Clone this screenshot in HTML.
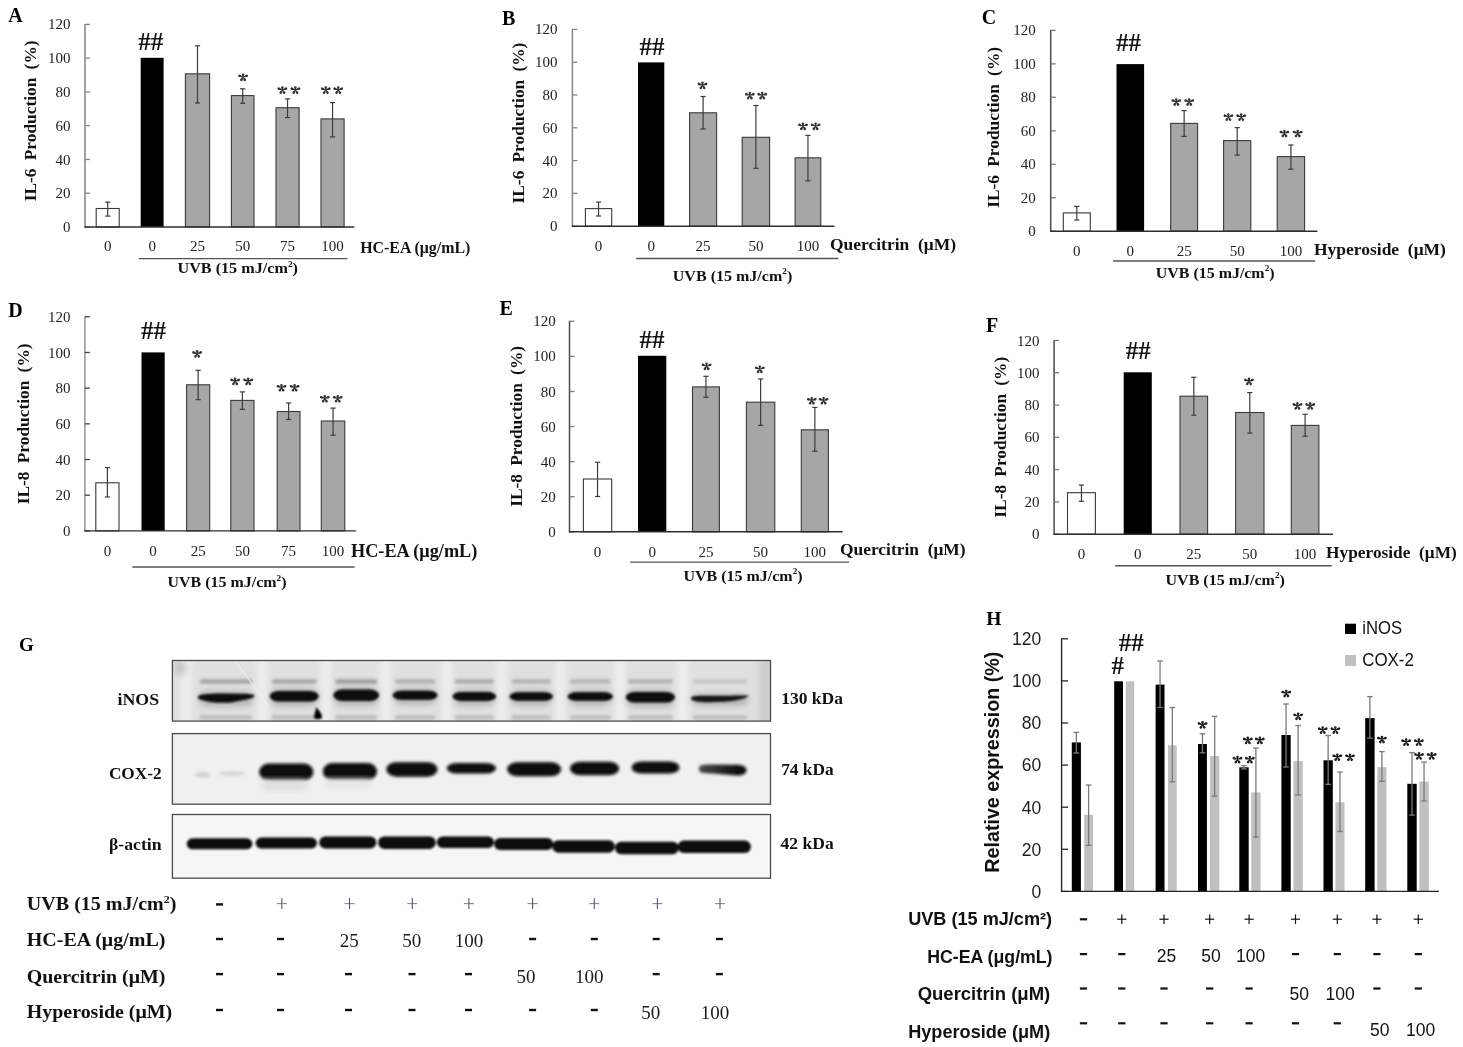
<!DOCTYPE html>
<html><head><meta charset="utf-8"><style>
html,body{margin:0;padding:0;background:#fff;}
svg{display:block;filter:blur(0.55px);}
.sr{font-family:'Liberation Serif', serif;}
.sb{font-family:'Liberation Serif', serif;font-weight:bold;}
.ns{font-family:'Liberation Sans', sans-serif;}
.nb{font-family:'Liberation Sans', sans-serif;font-weight:bold;}
</style></head><body>
<svg width="1463" height="1047" viewBox="0 0 1463 1047">
<rect width="1463" height="1047" fill="#fff"/>
<rect x="96.2" y="208.5" width="23" height="18.5" fill="#fff" stroke="#3a3a3a" stroke-width="1.1" />
<line x1="107.7" y1="202.1" x2="107.7" y2="216.1" stroke="#3c3c3c" stroke-width="1.2"/>
<line x1="105.1" y1="202.1" x2="110.3" y2="202.1" stroke="#3c3c3c" stroke-width="1.2"/>
<line x1="105.1" y1="216.1" x2="110.3" y2="216.1" stroke="#3c3c3c" stroke-width="1.2"/>
<rect x="140.7" y="57.8" width="22.9" height="169.2" fill="#000" />
<rect x="185.4" y="73.8" width="24.2" height="153.2" fill="#a6a6a6" stroke="#3a3a3a" stroke-width="1.1" />
<line x1="197.5" y1="45.8" x2="197.5" y2="103" stroke="#3c3c3c" stroke-width="1.2"/>
<line x1="194.9" y1="45.8" x2="200.1" y2="45.8" stroke="#3c3c3c" stroke-width="1.2"/>
<line x1="194.9" y1="103" x2="200.1" y2="103" stroke="#3c3c3c" stroke-width="1.2"/>
<rect x="231.4" y="95.6" width="22.6" height="131.4" fill="#a6a6a6" stroke="#3a3a3a" stroke-width="1.1" />
<line x1="242.7" y1="88.8" x2="242.7" y2="103.3" stroke="#3c3c3c" stroke-width="1.2"/>
<line x1="240.1" y1="88.8" x2="245.3" y2="88.8" stroke="#3c3c3c" stroke-width="1.2"/>
<line x1="240.1" y1="103.3" x2="245.3" y2="103.3" stroke="#3c3c3c" stroke-width="1.2"/>
<rect x="276" y="107.7" width="23.1" height="119.3" fill="#a6a6a6" stroke="#3a3a3a" stroke-width="1.1" />
<line x1="287.55" y1="98.9" x2="287.55" y2="117.6" stroke="#3c3c3c" stroke-width="1.2"/>
<line x1="284.95" y1="98.9" x2="290.15" y2="98.9" stroke="#3c3c3c" stroke-width="1.2"/>
<line x1="284.95" y1="117.6" x2="290.15" y2="117.6" stroke="#3c3c3c" stroke-width="1.2"/>
<rect x="321" y="118.9" width="23.1" height="108.1" fill="#a6a6a6" stroke="#3a3a3a" stroke-width="1.1" />
<line x1="332.55" y1="102.6" x2="332.55" y2="136.9" stroke="#3c3c3c" stroke-width="1.2"/>
<line x1="329.95" y1="102.6" x2="335.15" y2="102.6" stroke="#3c3c3c" stroke-width="1.2"/>
<line x1="329.95" y1="136.9" x2="335.15" y2="136.9" stroke="#3c3c3c" stroke-width="1.2"/>
<line x1="85" y1="23.9" x2="85" y2="227.6" stroke="#858585" stroke-width="1.5"/>
<line x1="85" y1="24.4" x2="90" y2="24.4" stroke="#858585" stroke-width="1.3"/>
<text x="70.5" y="29.47" class="sr" font-size="15" text-anchor="end" fill="#222" >120</text>
<line x1="85" y1="58.17" x2="90" y2="58.17" stroke="#858585" stroke-width="1.3"/>
<text x="70.5" y="63.24" class="sr" font-size="15" text-anchor="end" fill="#222" >100</text>
<line x1="85" y1="91.93" x2="90" y2="91.93" stroke="#858585" stroke-width="1.3"/>
<text x="70.5" y="97" class="sr" font-size="15" text-anchor="end" fill="#222" >80</text>
<line x1="85" y1="125.7" x2="90" y2="125.7" stroke="#858585" stroke-width="1.3"/>
<text x="70.5" y="130.77" class="sr" font-size="15" text-anchor="end" fill="#222" >60</text>
<line x1="85" y1="159.47" x2="90" y2="159.47" stroke="#858585" stroke-width="1.3"/>
<text x="70.5" y="164.54" class="sr" font-size="15" text-anchor="end" fill="#222" >40</text>
<line x1="85" y1="193.23" x2="90" y2="193.23" stroke="#858585" stroke-width="1.3"/>
<text x="70.5" y="198.3" class="sr" font-size="15" text-anchor="end" fill="#222" >20</text>
<line x1="85" y1="227" x2="90" y2="227" stroke="#858585" stroke-width="1.3"/>
<text x="70.5" y="232.07" class="sr" font-size="15" text-anchor="end" fill="#222" >0</text>
<line x1="84.4" y1="227" x2="354.4" y2="227" stroke="#2e2e2e" stroke-width="1.4"/>
<text x="107.7" y="251.3" class="sr" font-size="15" text-anchor="middle" fill="#222" >0</text>
<text x="152.15" y="251.3" class="sr" font-size="15" text-anchor="middle" fill="#222" >0</text>
<text x="197.5" y="251.3" class="sr" font-size="15" text-anchor="middle" fill="#222" >25</text>
<text x="242.7" y="251.3" class="sr" font-size="15" text-anchor="middle" fill="#222" >50</text>
<text x="287.55" y="251.3" class="sr" font-size="15" text-anchor="middle" fill="#222" >75</text>
<text x="332.55" y="251.3" class="sr" font-size="15" text-anchor="middle" fill="#222" >100</text>
<text x="150.8" y="50.2" class="sb" font-size="25" text-anchor="middle" fill="#111" >##</text>
<path d="M-0.20 -0.00L-1.30 -2.30A1.3 1.3 0 1 1 1.30 -2.30L0.20 0.00ZM-0.07 -0.19L3.08 -2.43A1.3 1.3 0 1 1 3.92 0.02L0.07 0.19ZM-0.07 0.19L-3.92 0.02A1.3 1.3 0 1 1 -3.08 -2.43L0.07 -0.19ZM0.17 -0.11L2.80 2.02A1.3 1.3 0 1 1 0.59 3.40L-0.17 0.11ZM0.17 0.11L-0.59 3.40A1.3 1.3 0 1 1 -2.80 2.02L-0.17 -0.11Z" transform="translate(243.1,77.1)" fill="#303030"/>
<path d="M-0.20 -0.00L-1.30 -2.30A1.3 1.3 0 1 1 1.30 -2.30L0.20 0.00ZM-0.07 -0.19L3.08 -2.43A1.3 1.3 0 1 1 3.92 0.02L0.07 0.19ZM-0.07 0.19L-3.92 0.02A1.3 1.3 0 1 1 -3.08 -2.43L0.07 -0.19ZM0.17 -0.11L2.80 2.02A1.3 1.3 0 1 1 0.59 3.40L-0.17 0.11ZM0.17 0.11L-0.59 3.40A1.3 1.3 0 1 1 -2.80 2.02L-0.17 -0.11Z" transform="translate(282.4,89.9)" fill="#303030"/>
<path d="M-0.20 -0.00L-1.30 -2.30A1.3 1.3 0 1 1 1.30 -2.30L0.20 0.00ZM-0.07 -0.19L3.08 -2.43A1.3 1.3 0 1 1 3.92 0.02L0.07 0.19ZM-0.07 0.19L-3.92 0.02A1.3 1.3 0 1 1 -3.08 -2.43L0.07 -0.19ZM0.17 -0.11L2.80 2.02A1.3 1.3 0 1 1 0.59 3.40L-0.17 0.11ZM0.17 0.11L-0.59 3.40A1.3 1.3 0 1 1 -2.80 2.02L-0.17 -0.11Z" transform="translate(295.4,89.9)" fill="#303030"/>
<path d="M-0.20 -0.00L-1.30 -2.30A1.3 1.3 0 1 1 1.30 -2.30L0.20 0.00ZM-0.07 -0.19L3.08 -2.43A1.3 1.3 0 1 1 3.92 0.02L0.07 0.19ZM-0.07 0.19L-3.92 0.02A1.3 1.3 0 1 1 -3.08 -2.43L0.07 -0.19ZM0.17 -0.11L2.80 2.02A1.3 1.3 0 1 1 0.59 3.40L-0.17 0.11ZM0.17 0.11L-0.59 3.40A1.3 1.3 0 1 1 -2.80 2.02L-0.17 -0.11Z" transform="translate(325.8,89.9)" fill="#303030"/>
<path d="M-0.20 -0.00L-1.30 -2.30A1.3 1.3 0 1 1 1.30 -2.30L0.20 0.00ZM-0.07 -0.19L3.08 -2.43A1.3 1.3 0 1 1 3.92 0.02L0.07 0.19ZM-0.07 0.19L-3.92 0.02A1.3 1.3 0 1 1 -3.08 -2.43L0.07 -0.19ZM0.17 -0.11L2.80 2.02A1.3 1.3 0 1 1 0.59 3.40L-0.17 0.11ZM0.17 0.11L-0.59 3.40A1.3 1.3 0 1 1 -2.80 2.02L-0.17 -0.11Z" transform="translate(338.2,89.9)" fill="#303030"/>
<text x="360.2" y="252.7" class="sb" font-size="16" fill="#111" textLength="110.2" lengthAdjust="spacingAndGlyphs" >HC-EA (μg/mL)</text>
<line x1="138.8" y1="258.6" x2="347.4" y2="258.6" stroke="#555" stroke-width="1.4"/>
<text x="177.5" y="273.4" class="sb" font-size="15.5" fill="#111" textLength="120.5" lengthAdjust="spacingAndGlyphs" >UVB (15 mJ/cm<tspan font-size="9" dy="-6.5">2</tspan><tspan dy="6.5">)</tspan></text>
<text class="sb" font-size="17.4" fill="#111" word-spacing="3.8" transform="translate(36.3,201.3) rotate(-90)">IL-6 Production (%)</text>
<text x="8.2" y="21.7" class="sb" font-size="20" fill="#000" >A</text>
<rect x="585.4" y="208.6" width="26.3" height="17.6" fill="#fff" stroke="#3a3a3a" stroke-width="1.1" />
<line x1="598.55" y1="202.1" x2="598.55" y2="216" stroke="#3c3c3c" stroke-width="1.2"/>
<line x1="595.95" y1="202.1" x2="601.15" y2="202.1" stroke="#3c3c3c" stroke-width="1.2"/>
<line x1="595.95" y1="216" x2="601.15" y2="216" stroke="#3c3c3c" stroke-width="1.2"/>
<rect x="638" y="62.4" width="26.3" height="163.8" fill="#000" />
<rect x="689.6" y="112.8" width="27" height="113.4" fill="#a6a6a6" stroke="#3a3a3a" stroke-width="1.1" />
<line x1="703.1" y1="96.5" x2="703.1" y2="129" stroke="#3c3c3c" stroke-width="1.2"/>
<line x1="700.5" y1="96.5" x2="705.7" y2="96.5" stroke="#3c3c3c" stroke-width="1.2"/>
<line x1="700.5" y1="129" x2="705.7" y2="129" stroke="#3c3c3c" stroke-width="1.2"/>
<rect x="742.2" y="137.3" width="27.4" height="88.9" fill="#a6a6a6" stroke="#3a3a3a" stroke-width="1.1" />
<line x1="755.9" y1="105.5" x2="755.9" y2="168.3" stroke="#3c3c3c" stroke-width="1.2"/>
<line x1="753.3" y1="105.5" x2="758.5" y2="105.5" stroke="#3c3c3c" stroke-width="1.2"/>
<line x1="753.3" y1="168.3" x2="758.5" y2="168.3" stroke="#3c3c3c" stroke-width="1.2"/>
<rect x="795.1" y="157.8" width="25.7" height="68.4" fill="#a6a6a6" stroke="#3a3a3a" stroke-width="1.1" />
<line x1="807.95" y1="135.4" x2="807.95" y2="180.8" stroke="#3c3c3c" stroke-width="1.2"/>
<line x1="805.35" y1="135.4" x2="810.55" y2="135.4" stroke="#3c3c3c" stroke-width="1.2"/>
<line x1="805.35" y1="180.8" x2="810.55" y2="180.8" stroke="#3c3c3c" stroke-width="1.2"/>
<line x1="572.4" y1="28.9" x2="572.4" y2="226.8" stroke="#858585" stroke-width="1.5"/>
<line x1="572.4" y1="29.4" x2="577.4" y2="29.4" stroke="#858585" stroke-width="1.3"/>
<text x="557.5" y="34.47" class="sr" font-size="15" text-anchor="end" fill="#222" >120</text>
<line x1="572.4" y1="62.2" x2="577.4" y2="62.2" stroke="#858585" stroke-width="1.3"/>
<text x="557.5" y="67.27" class="sr" font-size="15" text-anchor="end" fill="#222" >100</text>
<line x1="572.4" y1="95" x2="577.4" y2="95" stroke="#858585" stroke-width="1.3"/>
<text x="557.5" y="100.07" class="sr" font-size="15" text-anchor="end" fill="#222" >80</text>
<line x1="572.4" y1="127.8" x2="577.4" y2="127.8" stroke="#858585" stroke-width="1.3"/>
<text x="557.5" y="132.87" class="sr" font-size="15" text-anchor="end" fill="#222" >60</text>
<line x1="572.4" y1="160.6" x2="577.4" y2="160.6" stroke="#858585" stroke-width="1.3"/>
<text x="557.5" y="165.67" class="sr" font-size="15" text-anchor="end" fill="#222" >40</text>
<line x1="572.4" y1="193.4" x2="577.4" y2="193.4" stroke="#858585" stroke-width="1.3"/>
<text x="557.5" y="198.47" class="sr" font-size="15" text-anchor="end" fill="#222" >20</text>
<line x1="572.4" y1="226.2" x2="577.4" y2="226.2" stroke="#858585" stroke-width="1.3"/>
<text x="557.5" y="231.27" class="sr" font-size="15" text-anchor="end" fill="#222" >0</text>
<line x1="571.8" y1="226.2" x2="834.4" y2="226.2" stroke="#2e2e2e" stroke-width="1.4"/>
<text x="598.55" y="250.8" class="sr" font-size="15" text-anchor="middle" fill="#222" >0</text>
<text x="651.15" y="250.8" class="sr" font-size="15" text-anchor="middle" fill="#222" >0</text>
<text x="703.1" y="250.8" class="sr" font-size="15" text-anchor="middle" fill="#222" >25</text>
<text x="755.9" y="250.8" class="sr" font-size="15" text-anchor="middle" fill="#222" >50</text>
<text x="807.95" y="250.8" class="sr" font-size="15" text-anchor="middle" fill="#222" >100</text>
<text x="651.9" y="54.5" class="sb" font-size="25" text-anchor="middle" fill="#111" >##</text>
<path d="M-0.20 -0.00L-1.30 -2.30A1.3 1.3 0 1 1 1.30 -2.30L0.20 0.00ZM-0.07 -0.19L3.08 -2.43A1.3 1.3 0 1 1 3.92 0.02L0.07 0.19ZM-0.07 0.19L-3.92 0.02A1.3 1.3 0 1 1 -3.08 -2.43L0.07 -0.19ZM0.17 -0.11L2.80 2.02A1.3 1.3 0 1 1 0.59 3.40L-0.17 0.11ZM0.17 0.11L-0.59 3.40A1.3 1.3 0 1 1 -2.80 2.02L-0.17 -0.11Z" transform="translate(702.5,85.2)" fill="#303030"/>
<path d="M-0.20 -0.00L-1.30 -2.30A1.3 1.3 0 1 1 1.30 -2.30L0.20 0.00ZM-0.07 -0.19L3.08 -2.43A1.3 1.3 0 1 1 3.92 0.02L0.07 0.19ZM-0.07 0.19L-3.92 0.02A1.3 1.3 0 1 1 -3.08 -2.43L0.07 -0.19ZM0.17 -0.11L2.80 2.02A1.3 1.3 0 1 1 0.59 3.40L-0.17 0.11ZM0.17 0.11L-0.59 3.40A1.3 1.3 0 1 1 -2.80 2.02L-0.17 -0.11Z" transform="translate(749.8,95.4)" fill="#303030"/>
<path d="M-0.20 -0.00L-1.30 -2.30A1.3 1.3 0 1 1 1.30 -2.30L0.20 0.00ZM-0.07 -0.19L3.08 -2.43A1.3 1.3 0 1 1 3.92 0.02L0.07 0.19ZM-0.07 0.19L-3.92 0.02A1.3 1.3 0 1 1 -3.08 -2.43L0.07 -0.19ZM0.17 -0.11L2.80 2.02A1.3 1.3 0 1 1 0.59 3.40L-0.17 0.11ZM0.17 0.11L-0.59 3.40A1.3 1.3 0 1 1 -2.80 2.02L-0.17 -0.11Z" transform="translate(762.2,95.4)" fill="#303030"/>
<path d="M-0.20 -0.00L-1.30 -2.30A1.3 1.3 0 1 1 1.30 -2.30L0.20 0.00ZM-0.07 -0.19L3.08 -2.43A1.3 1.3 0 1 1 3.92 0.02L0.07 0.19ZM-0.07 0.19L-3.92 0.02A1.3 1.3 0 1 1 -3.08 -2.43L0.07 -0.19ZM0.17 -0.11L2.80 2.02A1.3 1.3 0 1 1 0.59 3.40L-0.17 0.11ZM0.17 0.11L-0.59 3.40A1.3 1.3 0 1 1 -2.80 2.02L-0.17 -0.11Z" transform="translate(803,126.1)" fill="#303030"/>
<path d="M-0.20 -0.00L-1.30 -2.30A1.3 1.3 0 1 1 1.30 -2.30L0.20 0.00ZM-0.07 -0.19L3.08 -2.43A1.3 1.3 0 1 1 3.92 0.02L0.07 0.19ZM-0.07 0.19L-3.92 0.02A1.3 1.3 0 1 1 -3.08 -2.43L0.07 -0.19ZM0.17 -0.11L2.80 2.02A1.3 1.3 0 1 1 0.59 3.40L-0.17 0.11ZM0.17 0.11L-0.59 3.40A1.3 1.3 0 1 1 -2.80 2.02L-0.17 -0.11Z" transform="translate(815.6,126.1)" fill="#303030"/>
<text x="830" y="249.8" class="sb" font-size="17.5" fill="#111" textLength="126" lengthAdjust="spacingAndGlyphs" >Quercitrin&#160;&#160;(μM)</text>
<line x1="636.1" y1="258.5" x2="838.4" y2="258.5" stroke="#555" stroke-width="1.4"/>
<text x="672.8" y="280.8" class="sb" font-size="15.5" fill="#111" textLength="119.5" lengthAdjust="spacingAndGlyphs" >UVB (15 mJ/cm<tspan font-size="9" dy="-6.5">2</tspan><tspan dy="6.5">)</tspan></text>
<text class="sb" font-size="17.4" fill="#111" word-spacing="3.8" transform="translate(523.5,203.5) rotate(-90)">IL-6 Production (%)</text>
<text x="502" y="25.2" class="sb" font-size="20" fill="#000" >B</text>
<rect x="1063.3" y="212.9" width="27" height="18.3" fill="#fff" stroke="#3a3a3a" stroke-width="1.1" />
<line x1="1076.8" y1="206.4" x2="1076.8" y2="220" stroke="#3c3c3c" stroke-width="1.2"/>
<line x1="1074.2" y1="206.4" x2="1079.4" y2="206.4" stroke="#3c3c3c" stroke-width="1.2"/>
<line x1="1074.2" y1="220" x2="1079.4" y2="220" stroke="#3c3c3c" stroke-width="1.2"/>
<rect x="1116.5" y="64.1" width="27.6" height="167.1" fill="#000" />
<rect x="1170.7" y="123.4" width="26.9" height="107.8" fill="#a6a6a6" stroke="#3a3a3a" stroke-width="1.1" />
<line x1="1184.15" y1="110.6" x2="1184.15" y2="136.4" stroke="#3c3c3c" stroke-width="1.2"/>
<line x1="1181.55" y1="110.6" x2="1186.75" y2="110.6" stroke="#3c3c3c" stroke-width="1.2"/>
<line x1="1181.55" y1="136.4" x2="1186.75" y2="136.4" stroke="#3c3c3c" stroke-width="1.2"/>
<rect x="1223.6" y="140.6" width="27.2" height="90.6" fill="#a6a6a6" stroke="#3a3a3a" stroke-width="1.1" />
<line x1="1237.2" y1="127.6" x2="1237.2" y2="155.1" stroke="#3c3c3c" stroke-width="1.2"/>
<line x1="1234.6" y1="127.6" x2="1239.8" y2="127.6" stroke="#3c3c3c" stroke-width="1.2"/>
<line x1="1234.6" y1="155.1" x2="1239.8" y2="155.1" stroke="#3c3c3c" stroke-width="1.2"/>
<rect x="1277.2" y="156.6" width="27.4" height="74.6" fill="#a6a6a6" stroke="#3a3a3a" stroke-width="1.1" />
<line x1="1290.9" y1="145" x2="1290.9" y2="169.2" stroke="#3c3c3c" stroke-width="1.2"/>
<line x1="1288.3" y1="145" x2="1293.5" y2="145" stroke="#3c3c3c" stroke-width="1.2"/>
<line x1="1288.3" y1="169.2" x2="1293.5" y2="169.2" stroke="#3c3c3c" stroke-width="1.2"/>
<line x1="1050.7" y1="29.9" x2="1050.7" y2="231.8" stroke="#4a4a4a" stroke-width="1.5"/>
<line x1="1050.7" y1="30.4" x2="1055.7" y2="30.4" stroke="#7a7a7a" stroke-width="1.3"/>
<text x="1035.7" y="35.47" class="sr" font-size="15" text-anchor="end" fill="#222" >120</text>
<line x1="1050.7" y1="63.87" x2="1055.7" y2="63.87" stroke="#7a7a7a" stroke-width="1.3"/>
<text x="1035.7" y="68.94" class="sr" font-size="15" text-anchor="end" fill="#222" >100</text>
<line x1="1050.7" y1="97.33" x2="1055.7" y2="97.33" stroke="#7a7a7a" stroke-width="1.3"/>
<text x="1035.7" y="102.4" class="sr" font-size="15" text-anchor="end" fill="#222" >80</text>
<line x1="1050.7" y1="130.8" x2="1055.7" y2="130.8" stroke="#7a7a7a" stroke-width="1.3"/>
<text x="1035.7" y="135.87" class="sr" font-size="15" text-anchor="end" fill="#222" >60</text>
<line x1="1050.7" y1="164.27" x2="1055.7" y2="164.27" stroke="#7a7a7a" stroke-width="1.3"/>
<text x="1035.7" y="169.34" class="sr" font-size="15" text-anchor="end" fill="#222" >40</text>
<line x1="1050.7" y1="197.73" x2="1055.7" y2="197.73" stroke="#7a7a7a" stroke-width="1.3"/>
<text x="1035.7" y="202.8" class="sr" font-size="15" text-anchor="end" fill="#222" >20</text>
<line x1="1050.7" y1="231.2" x2="1055.7" y2="231.2" stroke="#7a7a7a" stroke-width="1.3"/>
<text x="1035.7" y="236.27" class="sr" font-size="15" text-anchor="end" fill="#222" >0</text>
<line x1="1050.1" y1="231.2" x2="1317.4" y2="231.2" stroke="#2e2e2e" stroke-width="1.4"/>
<text x="1076.8" y="255.8" class="sr" font-size="15" text-anchor="middle" fill="#222" >0</text>
<text x="1130.3" y="255.8" class="sr" font-size="15" text-anchor="middle" fill="#222" >0</text>
<text x="1184.15" y="255.8" class="sr" font-size="15" text-anchor="middle" fill="#222" >25</text>
<text x="1237.2" y="255.8" class="sr" font-size="15" text-anchor="middle" fill="#222" >50</text>
<text x="1290.9" y="255.8" class="sr" font-size="15" text-anchor="middle" fill="#222" >100</text>
<text x="1128.5" y="51.4" class="sb" font-size="25" text-anchor="middle" fill="#111" >##</text>
<path d="M-0.20 -0.00L-1.30 -2.30A1.3 1.3 0 1 1 1.30 -2.30L0.20 0.00ZM-0.07 -0.19L3.08 -2.43A1.3 1.3 0 1 1 3.92 0.02L0.07 0.19ZM-0.07 0.19L-3.92 0.02A1.3 1.3 0 1 1 -3.08 -2.43L0.07 -0.19ZM0.17 -0.11L2.80 2.02A1.3 1.3 0 1 1 0.59 3.40L-0.17 0.11ZM0.17 0.11L-0.59 3.40A1.3 1.3 0 1 1 -2.80 2.02L-0.17 -0.11Z" transform="translate(1176.3,101.8)" fill="#303030"/>
<path d="M-0.20 -0.00L-1.30 -2.30A1.3 1.3 0 1 1 1.30 -2.30L0.20 0.00ZM-0.07 -0.19L3.08 -2.43A1.3 1.3 0 1 1 3.92 0.02L0.07 0.19ZM-0.07 0.19L-3.92 0.02A1.3 1.3 0 1 1 -3.08 -2.43L0.07 -0.19ZM0.17 -0.11L2.80 2.02A1.3 1.3 0 1 1 0.59 3.40L-0.17 0.11ZM0.17 0.11L-0.59 3.40A1.3 1.3 0 1 1 -2.80 2.02L-0.17 -0.11Z" transform="translate(1189.2,101.8)" fill="#303030"/>
<path d="M-0.20 -0.00L-1.30 -2.30A1.3 1.3 0 1 1 1.30 -2.30L0.20 0.00ZM-0.07 -0.19L3.08 -2.43A1.3 1.3 0 1 1 3.92 0.02L0.07 0.19ZM-0.07 0.19L-3.92 0.02A1.3 1.3 0 1 1 -3.08 -2.43L0.07 -0.19ZM0.17 -0.11L2.80 2.02A1.3 1.3 0 1 1 0.59 3.40L-0.17 0.11ZM0.17 0.11L-0.59 3.40A1.3 1.3 0 1 1 -2.80 2.02L-0.17 -0.11Z" transform="translate(1228.4,116.9)" fill="#303030"/>
<path d="M-0.20 -0.00L-1.30 -2.30A1.3 1.3 0 1 1 1.30 -2.30L0.20 0.00ZM-0.07 -0.19L3.08 -2.43A1.3 1.3 0 1 1 3.92 0.02L0.07 0.19ZM-0.07 0.19L-3.92 0.02A1.3 1.3 0 1 1 -3.08 -2.43L0.07 -0.19ZM0.17 -0.11L2.80 2.02A1.3 1.3 0 1 1 0.59 3.40L-0.17 0.11ZM0.17 0.11L-0.59 3.40A1.3 1.3 0 1 1 -2.80 2.02L-0.17 -0.11Z" transform="translate(1241.2,116.9)" fill="#303030"/>
<path d="M-0.20 -0.00L-1.30 -2.30A1.3 1.3 0 1 1 1.30 -2.30L0.20 0.00ZM-0.07 -0.19L3.08 -2.43A1.3 1.3 0 1 1 3.92 0.02L0.07 0.19ZM-0.07 0.19L-3.92 0.02A1.3 1.3 0 1 1 -3.08 -2.43L0.07 -0.19ZM0.17 -0.11L2.80 2.02A1.3 1.3 0 1 1 0.59 3.40L-0.17 0.11ZM0.17 0.11L-0.59 3.40A1.3 1.3 0 1 1 -2.80 2.02L-0.17 -0.11Z" transform="translate(1284.4,133.3)" fill="#303030"/>
<path d="M-0.20 -0.00L-1.30 -2.30A1.3 1.3 0 1 1 1.30 -2.30L0.20 0.00ZM-0.07 -0.19L3.08 -2.43A1.3 1.3 0 1 1 3.92 0.02L0.07 0.19ZM-0.07 0.19L-3.92 0.02A1.3 1.3 0 1 1 -3.08 -2.43L0.07 -0.19ZM0.17 -0.11L2.80 2.02A1.3 1.3 0 1 1 0.59 3.40L-0.17 0.11ZM0.17 0.11L-0.59 3.40A1.3 1.3 0 1 1 -2.80 2.02L-0.17 -0.11Z" transform="translate(1297.7,133.3)" fill="#303030"/>
<text x="1314" y="254.8" class="sb" font-size="17.5" fill="#111" textLength="131.9" lengthAdjust="spacingAndGlyphs" >Hyperoside&#160;&#160;(μM)</text>
<line x1="1113" y1="261" x2="1315.2" y2="261" stroke="#555" stroke-width="1.4"/>
<text x="1155.8" y="277.6" class="sb" font-size="15.5" fill="#111" textLength="118.8" lengthAdjust="spacingAndGlyphs" >UVB (15 mJ/cm<tspan font-size="9" dy="-6.5">2</tspan><tspan dy="6.5">)</tspan></text>
<text class="sb" font-size="17.4" fill="#111" word-spacing="3.8" transform="translate(999.3,207.8) rotate(-90)">IL-6 Production (%)</text>
<text x="981.8" y="24.4" class="sb" font-size="20" fill="#000" >C</text>
<rect x="95.8" y="482.8" width="23.2" height="48.1" fill="#fff" stroke="#3a3a3a" stroke-width="1.1" />
<line x1="107.4" y1="467.6" x2="107.4" y2="497" stroke="#3c3c3c" stroke-width="1.2"/>
<line x1="104.8" y1="467.6" x2="110" y2="467.6" stroke="#3c3c3c" stroke-width="1.2"/>
<line x1="104.8" y1="497" x2="110" y2="497" stroke="#3c3c3c" stroke-width="1.2"/>
<rect x="141.5" y="352.4" width="23.2" height="178.5" fill="#000" />
<rect x="186.6" y="384.8" width="23.1" height="146.1" fill="#a6a6a6" stroke="#3a3a3a" stroke-width="1.1" />
<line x1="198.15" y1="370.3" x2="198.15" y2="399.7" stroke="#3c3c3c" stroke-width="1.2"/>
<line x1="195.55" y1="370.3" x2="200.75" y2="370.3" stroke="#3c3c3c" stroke-width="1.2"/>
<line x1="195.55" y1="399.7" x2="200.75" y2="399.7" stroke="#3c3c3c" stroke-width="1.2"/>
<rect x="230.8" y="400.4" width="23.2" height="130.5" fill="#a6a6a6" stroke="#3a3a3a" stroke-width="1.1" />
<line x1="242.4" y1="391.9" x2="242.4" y2="409.4" stroke="#3c3c3c" stroke-width="1.2"/>
<line x1="239.8" y1="391.9" x2="245" y2="391.9" stroke="#3c3c3c" stroke-width="1.2"/>
<line x1="239.8" y1="409.4" x2="245" y2="409.4" stroke="#3c3c3c" stroke-width="1.2"/>
<rect x="277.2" y="411.5" width="22.8" height="119.4" fill="#a6a6a6" stroke="#3a3a3a" stroke-width="1.1" />
<line x1="288.6" y1="403" x2="288.6" y2="419.5" stroke="#3c3c3c" stroke-width="1.2"/>
<line x1="286" y1="403" x2="291.2" y2="403" stroke="#3c3c3c" stroke-width="1.2"/>
<line x1="286" y1="419.5" x2="291.2" y2="419.5" stroke="#3c3c3c" stroke-width="1.2"/>
<rect x="321.3" y="421" width="23.5" height="109.9" fill="#a6a6a6" stroke="#3a3a3a" stroke-width="1.1" />
<line x1="333.05" y1="408.1" x2="333.05" y2="435.2" stroke="#3c3c3c" stroke-width="1.2"/>
<line x1="330.45" y1="408.1" x2="335.65" y2="408.1" stroke="#3c3c3c" stroke-width="1.2"/>
<line x1="330.45" y1="435.2" x2="335.65" y2="435.2" stroke="#3c3c3c" stroke-width="1.2"/>
<line x1="84.9" y1="316.3" x2="84.9" y2="531.5" stroke="#959595" stroke-width="1.5"/>
<line x1="84.9" y1="316.8" x2="89.9" y2="316.8" stroke="#444" stroke-width="1.3"/>
<text x="70.4" y="321.87" class="sr" font-size="15" text-anchor="end" fill="#222" >120</text>
<line x1="84.9" y1="352.48" x2="89.9" y2="352.48" stroke="#444" stroke-width="1.3"/>
<text x="70.4" y="357.55" class="sr" font-size="15" text-anchor="end" fill="#222" >100</text>
<line x1="84.9" y1="388.17" x2="89.9" y2="388.17" stroke="#444" stroke-width="1.3"/>
<text x="70.4" y="393.24" class="sr" font-size="15" text-anchor="end" fill="#222" >80</text>
<line x1="84.9" y1="423.85" x2="89.9" y2="423.85" stroke="#444" stroke-width="1.3"/>
<text x="70.4" y="428.92" class="sr" font-size="15" text-anchor="end" fill="#222" >60</text>
<line x1="84.9" y1="459.53" x2="89.9" y2="459.53" stroke="#444" stroke-width="1.3"/>
<text x="70.4" y="464.6" class="sr" font-size="15" text-anchor="end" fill="#222" >40</text>
<line x1="84.9" y1="495.22" x2="89.9" y2="495.22" stroke="#444" stroke-width="1.3"/>
<text x="70.4" y="500.29" class="sr" font-size="15" text-anchor="end" fill="#222" >20</text>
<line x1="84.9" y1="530.9" x2="89.9" y2="530.9" stroke="#444" stroke-width="1.3"/>
<text x="70.4" y="535.97" class="sr" font-size="15" text-anchor="end" fill="#222" >0</text>
<line x1="84.3" y1="530.9" x2="355.9" y2="530.9" stroke="#2e2e2e" stroke-width="1.4"/>
<text x="107.4" y="555.6" class="sr" font-size="15" text-anchor="middle" fill="#222" >0</text>
<text x="153.1" y="555.6" class="sr" font-size="15" text-anchor="middle" fill="#222" >0</text>
<text x="198.15" y="555.6" class="sr" font-size="15" text-anchor="middle" fill="#222" >25</text>
<text x="242.4" y="555.6" class="sr" font-size="15" text-anchor="middle" fill="#222" >50</text>
<text x="288.6" y="555.6" class="sr" font-size="15" text-anchor="middle" fill="#222" >75</text>
<text x="333.05" y="555.6" class="sr" font-size="15" text-anchor="middle" fill="#222" >100</text>
<text x="153.4" y="339.4" class="sb" font-size="25" text-anchor="middle" fill="#111" >##</text>
<path d="M-0.20 -0.00L-1.30 -2.30A1.3 1.3 0 1 1 1.30 -2.30L0.20 0.00ZM-0.07 -0.19L3.08 -2.43A1.3 1.3 0 1 1 3.92 0.02L0.07 0.19ZM-0.07 0.19L-3.92 0.02A1.3 1.3 0 1 1 -3.08 -2.43L0.07 -0.19ZM0.17 -0.11L2.80 2.02A1.3 1.3 0 1 1 0.59 3.40L-0.17 0.11ZM0.17 0.11L-0.59 3.40A1.3 1.3 0 1 1 -2.80 2.02L-0.17 -0.11Z" transform="translate(197.1,353.7)" fill="#303030"/>
<path d="M-0.20 -0.00L-1.30 -2.30A1.3 1.3 0 1 1 1.30 -2.30L0.20 0.00ZM-0.07 -0.19L3.08 -2.43A1.3 1.3 0 1 1 3.92 0.02L0.07 0.19ZM-0.07 0.19L-3.92 0.02A1.3 1.3 0 1 1 -3.08 -2.43L0.07 -0.19ZM0.17 -0.11L2.80 2.02A1.3 1.3 0 1 1 0.59 3.40L-0.17 0.11ZM0.17 0.11L-0.59 3.40A1.3 1.3 0 1 1 -2.80 2.02L-0.17 -0.11Z" transform="translate(235.1,381.2)" fill="#303030"/>
<path d="M-0.20 -0.00L-1.30 -2.30A1.3 1.3 0 1 1 1.30 -2.30L0.20 0.00ZM-0.07 -0.19L3.08 -2.43A1.3 1.3 0 1 1 3.92 0.02L0.07 0.19ZM-0.07 0.19L-3.92 0.02A1.3 1.3 0 1 1 -3.08 -2.43L0.07 -0.19ZM0.17 -0.11L2.80 2.02A1.3 1.3 0 1 1 0.59 3.40L-0.17 0.11ZM0.17 0.11L-0.59 3.40A1.3 1.3 0 1 1 -2.80 2.02L-0.17 -0.11Z" transform="translate(248.2,381.2)" fill="#303030"/>
<path d="M-0.20 -0.00L-1.30 -2.30A1.3 1.3 0 1 1 1.30 -2.30L0.20 0.00ZM-0.07 -0.19L3.08 -2.43A1.3 1.3 0 1 1 3.92 0.02L0.07 0.19ZM-0.07 0.19L-3.92 0.02A1.3 1.3 0 1 1 -3.08 -2.43L0.07 -0.19ZM0.17 -0.11L2.80 2.02A1.3 1.3 0 1 1 0.59 3.40L-0.17 0.11ZM0.17 0.11L-0.59 3.40A1.3 1.3 0 1 1 -2.80 2.02L-0.17 -0.11Z" transform="translate(281.5,387.5)" fill="#303030"/>
<path d="M-0.20 -0.00L-1.30 -2.30A1.3 1.3 0 1 1 1.30 -2.30L0.20 0.00ZM-0.07 -0.19L3.08 -2.43A1.3 1.3 0 1 1 3.92 0.02L0.07 0.19ZM-0.07 0.19L-3.92 0.02A1.3 1.3 0 1 1 -3.08 -2.43L0.07 -0.19ZM0.17 -0.11L2.80 2.02A1.3 1.3 0 1 1 0.59 3.40L-0.17 0.11ZM0.17 0.11L-0.59 3.40A1.3 1.3 0 1 1 -2.80 2.02L-0.17 -0.11Z" transform="translate(294.6,387.5)" fill="#303030"/>
<path d="M-0.20 -0.00L-1.30 -2.30A1.3 1.3 0 1 1 1.30 -2.30L0.20 0.00ZM-0.07 -0.19L3.08 -2.43A1.3 1.3 0 1 1 3.92 0.02L0.07 0.19ZM-0.07 0.19L-3.92 0.02A1.3 1.3 0 1 1 -3.08 -2.43L0.07 -0.19ZM0.17 -0.11L2.80 2.02A1.3 1.3 0 1 1 0.59 3.40L-0.17 0.11ZM0.17 0.11L-0.59 3.40A1.3 1.3 0 1 1 -2.80 2.02L-0.17 -0.11Z" transform="translate(324.8,398.5)" fill="#303030"/>
<path d="M-0.20 -0.00L-1.30 -2.30A1.3 1.3 0 1 1 1.30 -2.30L0.20 0.00ZM-0.07 -0.19L3.08 -2.43A1.3 1.3 0 1 1 3.92 0.02L0.07 0.19ZM-0.07 0.19L-3.92 0.02A1.3 1.3 0 1 1 -3.08 -2.43L0.07 -0.19ZM0.17 -0.11L2.80 2.02A1.3 1.3 0 1 1 0.59 3.40L-0.17 0.11ZM0.17 0.11L-0.59 3.40A1.3 1.3 0 1 1 -2.80 2.02L-0.17 -0.11Z" transform="translate(337.7,398.5)" fill="#303030"/>
<text x="351" y="556.8" class="sb" font-size="18" fill="#111" textLength="126.3" lengthAdjust="spacingAndGlyphs" >HC-EA (μg/mL)</text>
<line x1="132.4" y1="567" x2="354.6" y2="567" stroke="#555" stroke-width="1.4"/>
<text x="167.6" y="587.4" class="sb" font-size="15.5" fill="#111" textLength="118.9" lengthAdjust="spacingAndGlyphs" >UVB (15 mJ/cm<tspan font-size="9" dy="-6.5">2</tspan><tspan dy="6.5">)</tspan></text>
<text class="sb" font-size="17.4" fill="#111" word-spacing="3.8" transform="translate(28.8,504.3) rotate(-90)">IL-8 Production (%)</text>
<text x="8.2" y="317" class="sb" font-size="20" fill="#000" >D</text>
<rect x="583.4" y="479" width="28.3" height="52.8" fill="#fff" stroke="#3a3a3a" stroke-width="1.1" />
<line x1="597.55" y1="462.3" x2="597.55" y2="496.5" stroke="#3c3c3c" stroke-width="1.2"/>
<line x1="594.95" y1="462.3" x2="600.15" y2="462.3" stroke="#3c3c3c" stroke-width="1.2"/>
<line x1="594.95" y1="496.5" x2="600.15" y2="496.5" stroke="#3c3c3c" stroke-width="1.2"/>
<rect x="638" y="355.8" width="28.3" height="176" fill="#000" />
<rect x="692.5" y="386.9" width="26.9" height="144.9" fill="#a6a6a6" stroke="#3a3a3a" stroke-width="1.1" />
<line x1="705.95" y1="376.3" x2="705.95" y2="397.3" stroke="#3c3c3c" stroke-width="1.2"/>
<line x1="703.35" y1="376.3" x2="708.55" y2="376.3" stroke="#3c3c3c" stroke-width="1.2"/>
<line x1="703.35" y1="397.3" x2="708.55" y2="397.3" stroke="#3c3c3c" stroke-width="1.2"/>
<rect x="746.4" y="402.2" width="28.4" height="129.6" fill="#a6a6a6" stroke="#3a3a3a" stroke-width="1.1" />
<line x1="760.6" y1="379" x2="760.6" y2="425.4" stroke="#3c3c3c" stroke-width="1.2"/>
<line x1="758" y1="379" x2="763.2" y2="379" stroke="#3c3c3c" stroke-width="1.2"/>
<line x1="758" y1="425.4" x2="763.2" y2="425.4" stroke="#3c3c3c" stroke-width="1.2"/>
<rect x="801.3" y="429.8" width="27.1" height="102" fill="#a6a6a6" stroke="#3a3a3a" stroke-width="1.1" />
<line x1="814.85" y1="407.4" x2="814.85" y2="451.2" stroke="#3c3c3c" stroke-width="1.2"/>
<line x1="812.25" y1="407.4" x2="817.45" y2="407.4" stroke="#3c3c3c" stroke-width="1.2"/>
<line x1="812.25" y1="451.2" x2="817.45" y2="451.2" stroke="#3c3c3c" stroke-width="1.2"/>
<line x1="569.5" y1="320.8" x2="569.5" y2="532.4" stroke="#4a4a4a" stroke-width="1.5"/>
<line x1="569.5" y1="321.3" x2="574.5" y2="321.3" stroke="#7a7a7a" stroke-width="1.3"/>
<text x="555.8" y="326.37" class="sr" font-size="15" text-anchor="end" fill="#222" >120</text>
<line x1="569.5" y1="356.38" x2="574.5" y2="356.38" stroke="#7a7a7a" stroke-width="1.3"/>
<text x="555.8" y="361.45" class="sr" font-size="15" text-anchor="end" fill="#222" >100</text>
<line x1="569.5" y1="391.47" x2="574.5" y2="391.47" stroke="#7a7a7a" stroke-width="1.3"/>
<text x="555.8" y="396.54" class="sr" font-size="15" text-anchor="end" fill="#222" >80</text>
<line x1="569.5" y1="426.55" x2="574.5" y2="426.55" stroke="#7a7a7a" stroke-width="1.3"/>
<text x="555.8" y="431.62" class="sr" font-size="15" text-anchor="end" fill="#222" >60</text>
<line x1="569.5" y1="461.63" x2="574.5" y2="461.63" stroke="#7a7a7a" stroke-width="1.3"/>
<text x="555.8" y="466.7" class="sr" font-size="15" text-anchor="end" fill="#222" >40</text>
<line x1="569.5" y1="496.72" x2="574.5" y2="496.72" stroke="#7a7a7a" stroke-width="1.3"/>
<text x="555.8" y="501.79" class="sr" font-size="15" text-anchor="end" fill="#222" >20</text>
<line x1="569.5" y1="531.8" x2="574.5" y2="531.8" stroke="#7a7a7a" stroke-width="1.3"/>
<text x="555.8" y="536.87" class="sr" font-size="15" text-anchor="end" fill="#222" >0</text>
<line x1="568.9" y1="531.8" x2="842.6" y2="531.8" stroke="#2e2e2e" stroke-width="1.4"/>
<text x="597.55" y="556.8" class="sr" font-size="15" text-anchor="middle" fill="#222" >0</text>
<text x="652.15" y="556.8" class="sr" font-size="15" text-anchor="middle" fill="#222" >0</text>
<text x="705.95" y="556.8" class="sr" font-size="15" text-anchor="middle" fill="#222" >25</text>
<text x="760.6" y="556.8" class="sr" font-size="15" text-anchor="middle" fill="#222" >50</text>
<text x="814.85" y="556.8" class="sr" font-size="15" text-anchor="middle" fill="#222" >100</text>
<text x="651.9" y="347.9" class="sb" font-size="25" text-anchor="middle" fill="#111" >##</text>
<path d="M-0.20 -0.00L-1.30 -2.30A1.3 1.3 0 1 1 1.30 -2.30L0.20 0.00ZM-0.07 -0.19L3.08 -2.43A1.3 1.3 0 1 1 3.92 0.02L0.07 0.19ZM-0.07 0.19L-3.92 0.02A1.3 1.3 0 1 1 -3.08 -2.43L0.07 -0.19ZM0.17 -0.11L2.80 2.02A1.3 1.3 0 1 1 0.59 3.40L-0.17 0.11ZM0.17 0.11L-0.59 3.40A1.3 1.3 0 1 1 -2.80 2.02L-0.17 -0.11Z" transform="translate(706.6,366.1)" fill="#303030"/>
<path d="M-0.20 -0.00L-1.30 -2.30A1.3 1.3 0 1 1 1.30 -2.30L0.20 0.00ZM-0.07 -0.19L3.08 -2.43A1.3 1.3 0 1 1 3.92 0.02L0.07 0.19ZM-0.07 0.19L-3.92 0.02A1.3 1.3 0 1 1 -3.08 -2.43L0.07 -0.19ZM0.17 -0.11L2.80 2.02A1.3 1.3 0 1 1 0.59 3.40L-0.17 0.11ZM0.17 0.11L-0.59 3.40A1.3 1.3 0 1 1 -2.80 2.02L-0.17 -0.11Z" transform="translate(759.75,369.1)" fill="#303030"/>
<path d="M-0.20 -0.00L-1.30 -2.30A1.3 1.3 0 1 1 1.30 -2.30L0.20 0.00ZM-0.07 -0.19L3.08 -2.43A1.3 1.3 0 1 1 3.92 0.02L0.07 0.19ZM-0.07 0.19L-3.92 0.02A1.3 1.3 0 1 1 -3.08 -2.43L0.07 -0.19ZM0.17 -0.11L2.80 2.02A1.3 1.3 0 1 1 0.59 3.40L-0.17 0.11ZM0.17 0.11L-0.59 3.40A1.3 1.3 0 1 1 -2.80 2.02L-0.17 -0.11Z" transform="translate(811.8,400.5)" fill="#303030"/>
<path d="M-0.20 -0.00L-1.30 -2.30A1.3 1.3 0 1 1 1.30 -2.30L0.20 0.00ZM-0.07 -0.19L3.08 -2.43A1.3 1.3 0 1 1 3.92 0.02L0.07 0.19ZM-0.07 0.19L-3.92 0.02A1.3 1.3 0 1 1 -3.08 -2.43L0.07 -0.19ZM0.17 -0.11L2.80 2.02A1.3 1.3 0 1 1 0.59 3.40L-0.17 0.11ZM0.17 0.11L-0.59 3.40A1.3 1.3 0 1 1 -2.80 2.02L-0.17 -0.11Z" transform="translate(823.6,400.5)" fill="#303030"/>
<text x="840" y="555.4" class="sb" font-size="17.5" fill="#111" textLength="125.6" lengthAdjust="spacingAndGlyphs" >Quercitrin&#160;&#160;(μM)</text>
<line x1="630.1" y1="562.1" x2="849" y2="562.1" stroke="#555" stroke-width="1.4"/>
<text x="683.4" y="580.6" class="sb" font-size="15.5" fill="#111" textLength="119.2" lengthAdjust="spacingAndGlyphs" >UVB (15 mJ/cm<tspan font-size="9" dy="-6.5">2</tspan><tspan dy="6.5">)</tspan></text>
<text class="sb" font-size="17.4" fill="#111" word-spacing="3.8" transform="translate(522.2,506.8) rotate(-90)">IL-8 Production (%)</text>
<text x="499.4" y="315.2" class="sb" font-size="20" fill="#000" >E</text>
<rect x="1067.5" y="492.7" width="27.9" height="41.5" fill="#fff" stroke="#3a3a3a" stroke-width="1.1" />
<line x1="1081.45" y1="485" x2="1081.45" y2="501.3" stroke="#3c3c3c" stroke-width="1.2"/>
<line x1="1078.85" y1="485" x2="1084.05" y2="485" stroke="#3c3c3c" stroke-width="1.2"/>
<line x1="1078.85" y1="501.3" x2="1084.05" y2="501.3" stroke="#3c3c3c" stroke-width="1.2"/>
<rect x="1123.7" y="372.3" width="28.1" height="161.9" fill="#000" />
<rect x="1180" y="396.2" width="27.6" height="138" fill="#a6a6a6" stroke="#3a3a3a" stroke-width="1.1" />
<line x1="1193.8" y1="377.3" x2="1193.8" y2="415.2" stroke="#3c3c3c" stroke-width="1.2"/>
<line x1="1191.2" y1="377.3" x2="1196.4" y2="377.3" stroke="#3c3c3c" stroke-width="1.2"/>
<line x1="1191.2" y1="415.2" x2="1196.4" y2="415.2" stroke="#3c3c3c" stroke-width="1.2"/>
<rect x="1235.6" y="412.5" width="28.4" height="121.7" fill="#a6a6a6" stroke="#3a3a3a" stroke-width="1.1" />
<line x1="1249.8" y1="392.6" x2="1249.8" y2="433.1" stroke="#3c3c3c" stroke-width="1.2"/>
<line x1="1247.2" y1="392.6" x2="1252.4" y2="392.6" stroke="#3c3c3c" stroke-width="1.2"/>
<line x1="1247.2" y1="433.1" x2="1252.4" y2="433.1" stroke="#3c3c3c" stroke-width="1.2"/>
<rect x="1291.3" y="425.4" width="27.6" height="108.8" fill="#a6a6a6" stroke="#3a3a3a" stroke-width="1.1" />
<line x1="1305.1" y1="414.3" x2="1305.1" y2="436.2" stroke="#3c3c3c" stroke-width="1.2"/>
<line x1="1302.5" y1="414.3" x2="1307.7" y2="414.3" stroke="#3c3c3c" stroke-width="1.2"/>
<line x1="1302.5" y1="436.2" x2="1307.7" y2="436.2" stroke="#3c3c3c" stroke-width="1.2"/>
<line x1="1054.1" y1="340" x2="1054.1" y2="534.8" stroke="#4a4a4a" stroke-width="1.5"/>
<line x1="1054.1" y1="340.5" x2="1059.1" y2="340.5" stroke="#7a7a7a" stroke-width="1.3"/>
<text x="1039.6" y="345.57" class="sr" font-size="15" text-anchor="end" fill="#222" >120</text>
<line x1="1054.1" y1="372.78" x2="1059.1" y2="372.78" stroke="#7a7a7a" stroke-width="1.3"/>
<text x="1039.6" y="377.85" class="sr" font-size="15" text-anchor="end" fill="#222" >100</text>
<line x1="1054.1" y1="405.07" x2="1059.1" y2="405.07" stroke="#7a7a7a" stroke-width="1.3"/>
<text x="1039.6" y="410.14" class="sr" font-size="15" text-anchor="end" fill="#222" >80</text>
<line x1="1054.1" y1="437.35" x2="1059.1" y2="437.35" stroke="#7a7a7a" stroke-width="1.3"/>
<text x="1039.6" y="442.42" class="sr" font-size="15" text-anchor="end" fill="#222" >60</text>
<line x1="1054.1" y1="469.63" x2="1059.1" y2="469.63" stroke="#7a7a7a" stroke-width="1.3"/>
<text x="1039.6" y="474.7" class="sr" font-size="15" text-anchor="end" fill="#222" >40</text>
<line x1="1054.1" y1="501.92" x2="1059.1" y2="501.92" stroke="#7a7a7a" stroke-width="1.3"/>
<text x="1039.6" y="506.99" class="sr" font-size="15" text-anchor="end" fill="#222" >20</text>
<line x1="1054.1" y1="534.2" x2="1059.1" y2="534.2" stroke="#7a7a7a" stroke-width="1.3"/>
<text x="1039.6" y="539.27" class="sr" font-size="15" text-anchor="end" fill="#222" >0</text>
<line x1="1053.5" y1="534.2" x2="1333.1" y2="534.2" stroke="#2e2e2e" stroke-width="1.4"/>
<text x="1081.45" y="558.5" class="sr" font-size="15" text-anchor="middle" fill="#222" >0</text>
<text x="1137.75" y="558.5" class="sr" font-size="15" text-anchor="middle" fill="#222" >0</text>
<text x="1193.8" y="558.5" class="sr" font-size="15" text-anchor="middle" fill="#222" >25</text>
<text x="1249.8" y="558.5" class="sr" font-size="15" text-anchor="middle" fill="#222" >50</text>
<text x="1305.1" y="558.5" class="sr" font-size="15" text-anchor="middle" fill="#222" >100</text>
<text x="1138.2" y="358.8" class="sb" font-size="25" text-anchor="middle" fill="#111" >##</text>
<path d="M-0.20 -0.00L-1.30 -2.30A1.3 1.3 0 1 1 1.30 -2.30L0.20 0.00ZM-0.07 -0.19L3.08 -2.43A1.3 1.3 0 1 1 3.92 0.02L0.07 0.19ZM-0.07 0.19L-3.92 0.02A1.3 1.3 0 1 1 -3.08 -2.43L0.07 -0.19ZM0.17 -0.11L2.80 2.02A1.3 1.3 0 1 1 0.59 3.40L-0.17 0.11ZM0.17 0.11L-0.59 3.40A1.3 1.3 0 1 1 -2.80 2.02L-0.17 -0.11Z" transform="translate(1248.95,381.2)" fill="#303030"/>
<path d="M-0.20 -0.00L-1.30 -2.30A1.3 1.3 0 1 1 1.30 -2.30L0.20 0.00ZM-0.07 -0.19L3.08 -2.43A1.3 1.3 0 1 1 3.92 0.02L0.07 0.19ZM-0.07 0.19L-3.92 0.02A1.3 1.3 0 1 1 -3.08 -2.43L0.07 -0.19ZM0.17 -0.11L2.80 2.02A1.3 1.3 0 1 1 0.59 3.40L-0.17 0.11ZM0.17 0.11L-0.59 3.40A1.3 1.3 0 1 1 -2.80 2.02L-0.17 -0.11Z" transform="translate(1297.4,405.7)" fill="#303030"/>
<path d="M-0.20 -0.00L-1.30 -2.30A1.3 1.3 0 1 1 1.30 -2.30L0.20 0.00ZM-0.07 -0.19L3.08 -2.43A1.3 1.3 0 1 1 3.92 0.02L0.07 0.19ZM-0.07 0.19L-3.92 0.02A1.3 1.3 0 1 1 -3.08 -2.43L0.07 -0.19ZM0.17 -0.11L2.80 2.02A1.3 1.3 0 1 1 0.59 3.40L-0.17 0.11ZM0.17 0.11L-0.59 3.40A1.3 1.3 0 1 1 -2.80 2.02L-0.17 -0.11Z" transform="translate(1310.2,405.7)" fill="#303030"/>
<text x="1326.1" y="558" class="sb" font-size="17.5" fill="#111" textLength="130.7" lengthAdjust="spacingAndGlyphs" >Hyperoside&#160;&#160;(μM)</text>
<line x1="1115.1" y1="565.8" x2="1331.8" y2="565.8" stroke="#555" stroke-width="1.4"/>
<text x="1165.5" y="584.8" class="sb" font-size="15.5" fill="#111" textLength="119.4" lengthAdjust="spacingAndGlyphs" >UVB (15 mJ/cm<tspan font-size="9" dy="-6.5">2</tspan><tspan dy="6.5">)</tspan></text>
<text class="sb" font-size="17.4" fill="#111" word-spacing="3.8" transform="translate(1006.4,517.7) rotate(-90)">IL-8 Production (%)</text>
<text x="986.1" y="331.7" class="sb" font-size="20" fill="#000" >F</text>
<defs>
<filter id="bl1" x="-20%" y="-80%" width="140%" height="260%"><feGaussianBlur stdDeviation="1.3"/></filter>
<filter id="bl2" x="-20%" y="-100%" width="140%" height="300%"><feGaussianBlur stdDeviation="1.8"/></filter>
<filter id="bl3" x="-30%" y="-30%" width="160%" height="160%"><feGaussianBlur stdDeviation="3"/></filter>
<clipPath id="cpI"><rect x="172.4" y="660.5" width="598.1" height="60.6"/></clipPath>
<clipPath id="cpC"><rect x="172.4" y="733.6" width="598.1" height="70.6"/></clipPath>
<clipPath id="cpB"><rect x="172.4" y="814.5" width="598.1" height="63.7"/></clipPath>
</defs>
<text x="19" y="651" class="sb" font-size="19" fill="#000" >G</text>
<g clip-path="url(#cpI)">
<rect x="172.4" y="660.5" width="598.1" height="60.6" fill="#e0e0e0" />
<g filter="url(#bl3)"><rect x="181" y="655" width="10" height="72" fill="#efefef"/><rect x="257.5" y="655" width="10" height="72" fill="#efefef"/><rect x="321" y="655" width="10" height="72" fill="#efefef"/><rect x="380.4" y="655" width="10" height="72" fill="#efefef"/><rect x="441.8" y="655" width="10" height="72" fill="#efefef"/><rect x="496.6" y="655" width="10" height="72" fill="#efefef"/><rect x="555.8" y="655" width="10" height="72" fill="#efefef"/><rect x="615.1" y="655" width="10" height="72" fill="#efefef"/><rect x="677.9" y="655" width="10" height="72" fill="#efefef"/><rect x="759" y="655" width="14" height="72" fill="#cdcdcd"/><ellipse cx="180" cy="668" rx="6" ry="8" fill="#c4c4c4"/></g>
<g filter="url(#bl2)"><rect x="199.8" y="679.3" width="52.2" height="4.4" rx="2" fill="#a4a4a4"/><rect x="199.8" y="715.5" width="52.2" height="4" rx="2" fill="#bababa"/><rect x="271.8" y="679.3" width="44.9" height="4.4" rx="2" fill="#a6a6a6"/><rect x="271.8" y="715.5" width="44.9" height="4" rx="2" fill="#bababa"/><rect x="335.4" y="679.3" width="41.6" height="4.4" rx="2" fill="#9c9c9c"/><rect x="335.4" y="715.5" width="41.6" height="4" rx="2" fill="#bababa"/><rect x="394.7" y="679.3" width="40.7" height="4.4" rx="2" fill="#b0b0b0"/><rect x="394.7" y="715.5" width="40.7" height="4" rx="2" fill="#bababa"/><rect x="454.6" y="679.3" width="39.4" height="4.4" rx="2" fill="#acacac"/><rect x="454.6" y="715.5" width="39.4" height="4" rx="2" fill="#bababa"/><rect x="511.6" y="679.3" width="39.3" height="4.4" rx="2" fill="#b2b2b2"/><rect x="511.6" y="715.5" width="39.3" height="4" rx="2" fill="#bababa"/><rect x="569.7" y="679.3" width="41.1" height="4.4" rx="2" fill="#b6b6b6"/><rect x="569.7" y="715.5" width="41.1" height="4" rx="2" fill="#bababa"/><rect x="627.8" y="679.3" width="45.1" height="4.4" rx="2" fill="#b2b2b2"/><rect x="627.8" y="715.5" width="45.1" height="4" rx="2" fill="#bababa"/><rect x="692.8" y="679.3" width="54.4" height="4.4" rx="2" fill="#c6c6c6"/><rect x="692.8" y="715.5" width="54.4" height="4" rx="2" fill="#bababa"/></g>
<g filter="url(#bl3)"><rect x="198.8" y="691.3" width="54.2" height="15" rx="8" fill="#b4b4b4"/><rect x="270.8" y="688.3" width="46.9" height="18" rx="8" fill="#b4b4b4"/><rect x="334.4" y="686.8" width="43.6" height="19" rx="8" fill="#b4b4b4"/><rect x="393.7" y="688.05" width="42.7" height="16.5" rx="8" fill="#b4b4b4"/><rect x="453.6" y="689.15" width="41.4" height="16.5" rx="8" fill="#b4b4b4"/><rect x="510.6" y="689.4" width="41.3" height="16" rx="8" fill="#b4b4b4"/><rect x="568.7" y="689.4" width="43.1" height="16" rx="8" fill="#b4b4b4"/><rect x="626.8" y="689.3" width="47.1" height="18" rx="8" fill="#b4b4b4"/><rect x="691.8" y="694" width="56.4" height="12" rx="8" fill="#b4b4b4"/></g>
<g filter="url(#bl1)"><path d="M197.8 697.3 C197.8 694.3 206.8 693.6 221.8 693.6 L243 693.8 C252 693.8 255 694.8 254.5 696.3 C252 699.3 240 700.3 232.8 702.3 C222.8 703.3 211.8 702.8 204.8 700.8 C199.8 699.8 197.8 698.8 197.8 697.3Z" fill="#0a0a0a"/><rect x="269.8" y="691.05" width="48.9" height="10.5" rx="9" ry="5.25" fill="#080808"/><rect x="333.4" y="689.55" width="45.6" height="11.5" rx="9" ry="5.75" fill="#080808"/><rect x="392.7" y="690.8" width="44.7" height="9" rx="9" ry="4.5" fill="#080808"/><rect x="452.6" y="691.9" width="43.4" height="9" rx="9" ry="4.5" fill="#080808"/><rect x="509.6" y="692.15" width="43.3" height="8.5" rx="9" ry="4.25" fill="#080808"/><rect x="567.7" y="692.15" width="45.1" height="8.5" rx="9" ry="4.25" fill="#080808"/><rect x="625.8" y="692.05" width="49.1" height="10.5" rx="9" ry="5.25" fill="#080808"/><path d="M690.8 698 C691.8 695.8 697.8 695.8 709.8 695.8 C730.2 695.8 744.2 695.2 749.2 695.5 C744.2 700 730.2 702.2 709.8 702.2 C697.8 702.2 690.8 701 690.8 698Z" fill="#151515"/><path d="M316 707 C319 710 322 714 322 717 C322 720 314 720 314 717 C314 714 316 711 316 707Z" fill="#000"/></g>
<line x1="235.6" y1="661.6" x2="268.4" y2="706.4" stroke="#f4f4f4" stroke-width="1" opacity="0.9"/>
</g>
<rect x="172.4" y="660.5" width="598.1" height="60.6" fill="none" stroke="#4a4a4a" stroke-width="1.3" />
<g clip-path="url(#cpC)">
<rect x="172.4" y="733.6" width="598.1" height="70.6" fill="#f0f0f0" />
<defs><linearGradient id="c9" x1="0" x2="1" y1="0" y2="0"><stop offset="0" stop-color="#4a4a4a"/><stop offset="0.5" stop-color="#252525"/><stop offset="0.85" stop-color="#0a0a0a"/><stop offset="1" stop-color="#111"/></linearGradient></defs>
<g filter="url(#bl2)"><ellipse cx="203" cy="775" rx="8" ry="3" fill="#d2d2d2"/><ellipse cx="232" cy="773.5" rx="13" ry="2.6" fill="#d6d6d6"/><rect x="259.2" y="763.5" width="54.2" height="17" rx="10" ry="8.5" fill="#080808"/><rect x="322.8" y="763" width="54.2" height="17" rx="10" ry="8.5" fill="#080808"/><rect x="386.4" y="762.15" width="51" height="14.5" rx="10" ry="7.25" fill="#080808"/><rect x="446.8" y="762.95" width="49.2" height="10.5" rx="10" ry="5.25" fill="#080808"/><rect x="507.2" y="762.3" width="53.8" height="14" rx="10" ry="7" fill="#080808"/><rect x="570" y="761.65" width="49.1" height="13.5" rx="10" ry="6.75" fill="#080808"/><rect x="631.6" y="761.5" width="47.9" height="12" rx="10" ry="6" fill="#080808"/><path d="M699 768 C699 765 703 764.6 712 764.6 L735 764.8 C742 764.8 746.5 766.5 746.5 770 C746.5 774 742 775.8 736 775.6 L712 773.5 C703 773.5 699 772.5 699 770 Z" fill="url(#c9)"/></g>
<g filter="url(#bl3)"><rect x="262" y="780" width="45" height="10" fill="#dcdcdc"/><rect x="326" y="779" width="45" height="8" fill="#e2e2e2"/></g>
</g>
<rect x="172.4" y="733.6" width="598.1" height="70.6" fill="none" stroke="#4a4a4a" stroke-width="1.3" />
<g clip-path="url(#cpB)">
<rect x="172.4" y="814.5" width="598.1" height="63.7" fill="#f6f6f6" />
<g filter="url(#bl1)"><rect x="186.7" y="838.3" width="65.7" height="11" rx="6" ry="5.5" fill="#0c0c0c"/><rect x="255.6" y="837.6" width="61.4" height="11" rx="6" ry="5.5" fill="#0c0c0c"/><rect x="319.2" y="836.5" width="57.1" height="12" rx="6" ry="6" fill="#0c0c0c"/><rect x="378.1" y="836.45" width="57.6" height="12.5" rx="6" ry="6.25" fill="#0c0c0c"/><rect x="436.8" y="836.45" width="57.2" height="11.5" rx="6" ry="5.75" fill="#0c0c0c"/><rect x="494.1" y="838" width="59.1" height="12" rx="6" ry="6" fill="#0c0c0c"/><rect x="552.2" y="840.15" width="62.6" height="12.5" rx="6" ry="6.25" fill="#0c0c0c"/><rect x="615" y="841.75" width="63.7" height="12.5" rx="6" ry="6.25" fill="#0c0c0c"/><rect x="677.7" y="840.55" width="73.2" height="12.5" rx="6" ry="6.25" fill="#0c0c0c"/></g>
</g>
<rect x="172.4" y="814.5" width="598.1" height="63.7" fill="none" stroke="#4a4a4a" stroke-width="1.3" />
<text x="117.5" y="704.6" class="sb" font-size="17" fill="#111" textLength="41.6" lengthAdjust="spacingAndGlyphs" >iNOS</text>
<text x="108.9" y="779.1" class="sb" font-size="17" fill="#111" textLength="52.8" lengthAdjust="spacingAndGlyphs" >COX-2</text>
<text x="108.9" y="849.7" class="sb" font-size="17" fill="#111" textLength="52.8" lengthAdjust="spacingAndGlyphs" >β-actin</text>
<text x="781.2" y="704" class="sb" font-size="17" fill="#111" textLength="61.7" lengthAdjust="spacingAndGlyphs" >130 kDa</text>
<text x="781.2" y="775.2" class="sb" font-size="17" fill="#111" textLength="52.5" lengthAdjust="spacingAndGlyphs" >74 kDa</text>
<text x="780.6" y="849.3" class="sb" font-size="17" fill="#111" textLength="53.1" lengthAdjust="spacingAndGlyphs" >42 kDa</text>
<text x="26.8" y="910.1" class="sb" font-size="18.5" fill="#111" textLength="149.6" lengthAdjust="spacingAndGlyphs" >UVB (15 mJ/cm<tspan font-size="11" dy="-7.5">2</tspan><tspan dy="7.5">)</tspan></text>
<text x="26.8" y="946.4" class="sb" font-size="18.5" fill="#111" textLength="138.6" lengthAdjust="spacingAndGlyphs" >HC-EA (μg/mL)</text>
<text x="26.8" y="982.5" class="sb" font-size="18.5" fill="#111" textLength="138.6" lengthAdjust="spacingAndGlyphs" >Quercitrin (μM)</text>
<text x="26.8" y="1018" class="sb" font-size="18.5" fill="#111" textLength="145.4" lengthAdjust="spacingAndGlyphs" >Hyperoside (μM)</text>
<rect x="216" y="903.2" width="7" height="2.4" fill="#111" />
<line x1="276.8" y1="903.6" x2="286.8" y2="903.6" stroke="#8a8a82" stroke-width="1.1"/>
<line x1="281.8" y1="898" x2="281.8" y2="909" stroke="#6a4c7c" stroke-width="1.1"/>
<line x1="344.5" y1="903.6" x2="354.5" y2="903.6" stroke="#8a8a82" stroke-width="1.1"/>
<line x1="349.5" y1="898" x2="349.5" y2="909" stroke="#6a4c7c" stroke-width="1.1"/>
<line x1="407.3" y1="903.6" x2="417.3" y2="903.6" stroke="#8a8a82" stroke-width="1.1"/>
<line x1="412.3" y1="898" x2="412.3" y2="909" stroke="#6a4c7c" stroke-width="1.1"/>
<line x1="463.9" y1="903.6" x2="473.9" y2="903.6" stroke="#8a8a82" stroke-width="1.1"/>
<line x1="468.9" y1="898" x2="468.9" y2="909" stroke="#6a4c7c" stroke-width="1.1"/>
<line x1="527.6" y1="903.6" x2="537.6" y2="903.6" stroke="#8a8a82" stroke-width="1.1"/>
<line x1="532.6" y1="898" x2="532.6" y2="909" stroke="#6a4c7c" stroke-width="1.1"/>
<line x1="589.3" y1="903.6" x2="599.3" y2="903.6" stroke="#8a8a82" stroke-width="1.1"/>
<line x1="594.3" y1="898" x2="594.3" y2="909" stroke="#6a4c7c" stroke-width="1.1"/>
<line x1="652.4" y1="903.6" x2="662.4" y2="903.6" stroke="#8a8a82" stroke-width="1.1"/>
<line x1="657.4" y1="898" x2="657.4" y2="909" stroke="#6a4c7c" stroke-width="1.1"/>
<line x1="715" y1="903.6" x2="725" y2="903.6" stroke="#8a8a82" stroke-width="1.1"/>
<line x1="720" y1="898" x2="720" y2="909" stroke="#6a4c7c" stroke-width="1.1"/>
<rect x="216" y="937.8" width="7" height="2.4" fill="#111" />
<rect x="277" y="937.8" width="7" height="2.4" fill="#111" />
<text x="349.3" y="946.6" class="sr" font-size="19" text-anchor="middle" fill="#1a1a1a" >25</text>
<text x="411.7" y="946.6" class="sr" font-size="19" text-anchor="middle" fill="#1a1a1a" >50</text>
<text x="468.9" y="946.6" class="sr" font-size="19" text-anchor="middle" fill="#1a1a1a" >100</text>
<rect x="529.1" y="937.8" width="7" height="2.4" fill="#111" />
<rect x="590.8" y="937.8" width="7" height="2.4" fill="#111" />
<rect x="652.7" y="937.8" width="7" height="2.4" fill="#111" />
<rect x="715.9" y="937.8" width="7" height="2.4" fill="#111" />
<rect x="216" y="972.9" width="7" height="2.4" fill="#111" />
<rect x="277" y="972.9" width="7" height="2.4" fill="#111" />
<rect x="345" y="972.9" width="7" height="2.4" fill="#111" />
<rect x="408.5" y="972.9" width="7" height="2.4" fill="#111" />
<rect x="465" y="972.9" width="7" height="2.4" fill="#111" />
<text x="526" y="982.8" class="sr" font-size="19" text-anchor="middle" fill="#1a1a1a" >50</text>
<text x="589.2" y="982.8" class="sr" font-size="19" text-anchor="middle" fill="#1a1a1a" >100</text>
<rect x="652.7" y="972.9" width="7" height="2.4" fill="#111" />
<rect x="715.9" y="972.9" width="7" height="2.4" fill="#111" />
<rect x="216" y="1008.8" width="7" height="2.4" fill="#111" />
<rect x="277" y="1008.8" width="7" height="2.4" fill="#111" />
<rect x="345" y="1008.8" width="7" height="2.4" fill="#111" />
<rect x="408.5" y="1008.8" width="7" height="2.4" fill="#111" />
<rect x="465" y="1008.8" width="7" height="2.4" fill="#111" />
<rect x="529.1" y="1008.8" width="7" height="2.4" fill="#111" />
<rect x="590.8" y="1008.8" width="7" height="2.4" fill="#111" />
<text x="650.8" y="1018.8" class="sr" font-size="19" text-anchor="middle" fill="#1a1a1a" >50</text>
<text x="714.9" y="1018.8" class="sr" font-size="19" text-anchor="middle" fill="#1a1a1a" >100</text>
<text x="986.3" y="624.6" class="sb" font-size="19.5" fill="#000" >H</text>
<rect x="1071.8" y="742.4" width="9.1" height="149" fill="#000" />
<rect x="1084.2" y="814.8" width="8.8" height="76.6" fill="#c0c0c0" />
<rect x="1114.2" y="681.3" width="8.8" height="210.1" fill="#000" />
<rect x="1125.8" y="681.3" width="8.4" height="210.1" fill="#c0c0c0" />
<rect x="1155.6" y="684.6" width="8.9" height="206.8" fill="#000" />
<rect x="1168" y="745.3" width="8.7" height="146.1" fill="#c0c0c0" />
<rect x="1198" y="744" width="8.9" height="147.4" fill="#000" />
<rect x="1210" y="756" width="9.3" height="135.4" fill="#c0c0c0" />
<rect x="1239.3" y="767.3" width="9.4" height="124.1" fill="#000" />
<rect x="1251.2" y="792.4" width="9.4" height="99" fill="#c0c0c0" />
<rect x="1281.4" y="735" width="9.3" height="156.4" fill="#000" />
<rect x="1293.4" y="761.1" width="9.4" height="130.3" fill="#c0c0c0" />
<rect x="1323.5" y="760.3" width="9.3" height="131.1" fill="#000" />
<rect x="1335.4" y="802.2" width="9.1" height="89.2" fill="#c0c0c0" />
<rect x="1365.2" y="718.1" width="9.4" height="173.3" fill="#000" />
<rect x="1377.3" y="767.2" width="9.2" height="124.2" fill="#c0c0c0" />
<rect x="1407.3" y="783.8" width="9.4" height="107.6" fill="#000" />
<rect x="1419.3" y="781.6" width="9.5" height="109.8" fill="#c0c0c0" />
<line x1="1076.35" y1="732.4" x2="1076.35" y2="753" stroke="#7a7a7a" stroke-width="1.3"/>
<line x1="1073.55" y1="732.4" x2="1079.15" y2="732.4" stroke="#7a7a7a" stroke-width="1.3"/>
<line x1="1073.55" y1="753" x2="1079.15" y2="753" stroke="#7a7a7a" stroke-width="1.3"/>
<line x1="1088.6" y1="785" x2="1088.6" y2="845.4" stroke="#7a7a7a" stroke-width="1.3"/>
<line x1="1085.8" y1="785" x2="1091.4" y2="785" stroke="#7a7a7a" stroke-width="1.3"/>
<line x1="1085.8" y1="845.4" x2="1091.4" y2="845.4" stroke="#7a7a7a" stroke-width="1.3"/>
<line x1="1160.05" y1="661" x2="1160.05" y2="707.5" stroke="#7a7a7a" stroke-width="1.3"/>
<line x1="1157.25" y1="661" x2="1162.85" y2="661" stroke="#7a7a7a" stroke-width="1.3"/>
<line x1="1157.25" y1="707.5" x2="1162.85" y2="707.5" stroke="#7a7a7a" stroke-width="1.3"/>
<line x1="1172.35" y1="707.5" x2="1172.35" y2="781.8" stroke="#7a7a7a" stroke-width="1.3"/>
<line x1="1169.55" y1="707.5" x2="1175.15" y2="707.5" stroke="#7a7a7a" stroke-width="1.3"/>
<line x1="1169.55" y1="781.8" x2="1175.15" y2="781.8" stroke="#7a7a7a" stroke-width="1.3"/>
<line x1="1202.45" y1="733.8" x2="1202.45" y2="752.8" stroke="#7a7a7a" stroke-width="1.3"/>
<line x1="1199.65" y1="733.8" x2="1205.25" y2="733.8" stroke="#7a7a7a" stroke-width="1.3"/>
<line x1="1199.65" y1="752.8" x2="1205.25" y2="752.8" stroke="#7a7a7a" stroke-width="1.3"/>
<line x1="1214.65" y1="716.4" x2="1214.65" y2="796.2" stroke="#7a7a7a" stroke-width="1.3"/>
<line x1="1211.85" y1="716.4" x2="1217.45" y2="716.4" stroke="#7a7a7a" stroke-width="1.3"/>
<line x1="1211.85" y1="796.2" x2="1217.45" y2="796.2" stroke="#7a7a7a" stroke-width="1.3"/>
<line x1="1244" y1="765.6" x2="1244" y2="768.9" stroke="#7a7a7a" stroke-width="1.3"/>
<line x1="1241.2" y1="765.6" x2="1246.8" y2="765.6" stroke="#7a7a7a" stroke-width="1.3"/>
<line x1="1241.2" y1="768.9" x2="1246.8" y2="768.9" stroke="#7a7a7a" stroke-width="1.3"/>
<line x1="1255.9" y1="748.1" x2="1255.9" y2="837.1" stroke="#7a7a7a" stroke-width="1.3"/>
<line x1="1253.1" y1="748.1" x2="1258.7" y2="748.1" stroke="#7a7a7a" stroke-width="1.3"/>
<line x1="1253.1" y1="837.1" x2="1258.7" y2="837.1" stroke="#7a7a7a" stroke-width="1.3"/>
<line x1="1286.05" y1="704" x2="1286.05" y2="767" stroke="#7a7a7a" stroke-width="1.3"/>
<line x1="1283.25" y1="704" x2="1288.85" y2="704" stroke="#7a7a7a" stroke-width="1.3"/>
<line x1="1283.25" y1="767" x2="1288.85" y2="767" stroke="#7a7a7a" stroke-width="1.3"/>
<line x1="1298.1" y1="725.5" x2="1298.1" y2="795" stroke="#7a7a7a" stroke-width="1.3"/>
<line x1="1295.3" y1="725.5" x2="1300.9" y2="725.5" stroke="#7a7a7a" stroke-width="1.3"/>
<line x1="1295.3" y1="795" x2="1300.9" y2="795" stroke="#7a7a7a" stroke-width="1.3"/>
<line x1="1328.15" y1="735.5" x2="1328.15" y2="784.4" stroke="#7a7a7a" stroke-width="1.3"/>
<line x1="1325.35" y1="735.5" x2="1330.95" y2="735.5" stroke="#7a7a7a" stroke-width="1.3"/>
<line x1="1325.35" y1="784.4" x2="1330.95" y2="784.4" stroke="#7a7a7a" stroke-width="1.3"/>
<line x1="1339.95" y1="772.1" x2="1339.95" y2="831.5" stroke="#7a7a7a" stroke-width="1.3"/>
<line x1="1337.15" y1="772.1" x2="1342.75" y2="772.1" stroke="#7a7a7a" stroke-width="1.3"/>
<line x1="1337.15" y1="831.5" x2="1342.75" y2="831.5" stroke="#7a7a7a" stroke-width="1.3"/>
<line x1="1369.9" y1="696.6" x2="1369.9" y2="738.1" stroke="#7a7a7a" stroke-width="1.3"/>
<line x1="1367.1" y1="696.6" x2="1372.7" y2="696.6" stroke="#7a7a7a" stroke-width="1.3"/>
<line x1="1367.1" y1="738.1" x2="1372.7" y2="738.1" stroke="#7a7a7a" stroke-width="1.3"/>
<line x1="1381.9" y1="751.6" x2="1381.9" y2="781.3" stroke="#7a7a7a" stroke-width="1.3"/>
<line x1="1379.1" y1="751.6" x2="1384.7" y2="751.6" stroke="#7a7a7a" stroke-width="1.3"/>
<line x1="1379.1" y1="781.3" x2="1384.7" y2="781.3" stroke="#7a7a7a" stroke-width="1.3"/>
<line x1="1412" y1="752.6" x2="1412" y2="815.1" stroke="#7a7a7a" stroke-width="1.3"/>
<line x1="1409.2" y1="752.6" x2="1414.8" y2="752.6" stroke="#7a7a7a" stroke-width="1.3"/>
<line x1="1409.2" y1="815.1" x2="1414.8" y2="815.1" stroke="#7a7a7a" stroke-width="1.3"/>
<line x1="1424.05" y1="762.2" x2="1424.05" y2="801" stroke="#7a7a7a" stroke-width="1.3"/>
<line x1="1421.25" y1="762.2" x2="1426.85" y2="762.2" stroke="#7a7a7a" stroke-width="1.3"/>
<line x1="1421.25" y1="801" x2="1426.85" y2="801" stroke="#7a7a7a" stroke-width="1.3"/>
<line x1="1061.6" y1="638.3" x2="1061.6" y2="892.1" stroke="#262626" stroke-width="1.4"/>
<line x1="1061.6" y1="638.8" x2="1068.1" y2="638.8" stroke="#262626" stroke-width="1.3"/>
<text x="1041.2" y="645.1" class="ns" font-size="17.5" text-anchor="end" fill="#1e1e1e" >120</text>
<line x1="1061.6" y1="680.9" x2="1068.1" y2="680.9" stroke="#262626" stroke-width="1.3"/>
<text x="1041.2" y="687.2" class="ns" font-size="17.5" text-anchor="end" fill="#1e1e1e" >100</text>
<line x1="1061.6" y1="723" x2="1068.1" y2="723" stroke="#262626" stroke-width="1.3"/>
<text x="1041.2" y="729.3" class="ns" font-size="17.5" text-anchor="end" fill="#1e1e1e" >80</text>
<line x1="1061.6" y1="765.1" x2="1068.1" y2="765.1" stroke="#262626" stroke-width="1.3"/>
<text x="1041.2" y="771.4" class="ns" font-size="17.5" text-anchor="end" fill="#1e1e1e" >60</text>
<line x1="1061.6" y1="807.2" x2="1068.1" y2="807.2" stroke="#262626" stroke-width="1.3"/>
<text x="1041.2" y="813.5" class="ns" font-size="17.5" text-anchor="end" fill="#1e1e1e" >40</text>
<line x1="1061.6" y1="849.3" x2="1068.1" y2="849.3" stroke="#262626" stroke-width="1.3"/>
<text x="1041.2" y="855.6" class="ns" font-size="17.5" text-anchor="end" fill="#1e1e1e" >20</text>
<line x1="1061.6" y1="891.4" x2="1068.1" y2="891.4" stroke="#262626" stroke-width="1.3"/>
<text x="1041.2" y="897.7" class="ns" font-size="17.5" text-anchor="end" fill="#1e1e1e" >0</text>
<line x1="1060.9" y1="891.4" x2="1439" y2="891.4" stroke="#262626" stroke-width="1.4"/>
<text class="nb" font-size="19.5" fill="#111" textLength="221" lengthAdjust="spacingAndGlyphs" transform="translate(999.2,872.7) rotate(-90)">Relative expression (%)</text>
<rect x="1345" y="623.7" width="11" height="10.3" fill="#000" />
<rect x="1345" y="655" width="11" height="10.9" fill="#c0c0c0" />
<text x="1362.2" y="634.4" class="ns" font-size="18" fill="#111" textLength="39.9" lengthAdjust="spacingAndGlyphs" >iNOS</text>
<text x="1362.2" y="665.9" class="ns" font-size="18" fill="#111" textLength="51.6" lengthAdjust="spacingAndGlyphs" >COX-2</text>
<text x="1117.85" y="673.7" class="sb" font-size="25" text-anchor="middle" fill="#111" >#</text>
<text x="1131.2" y="650.5" class="sb" font-size="25" text-anchor="middle" fill="#111" >##</text>
<path d="M-0.20 -0.00L-1.30 -2.30A1.3 1.3 0 1 1 1.30 -2.30L0.20 0.00ZM-0.07 -0.19L3.08 -2.43A1.3 1.3 0 1 1 3.92 0.02L0.07 0.19ZM-0.07 0.19L-3.92 0.02A1.3 1.3 0 1 1 -3.08 -2.43L0.07 -0.19ZM0.17 -0.11L2.80 2.02A1.3 1.3 0 1 1 0.59 3.40L-0.17 0.11ZM0.17 0.11L-0.59 3.40A1.3 1.3 0 1 1 -2.80 2.02L-0.17 -0.11Z" transform="translate(1202.55,724.7)" fill="#1a1a1a"/>
<path d="M-0.20 -0.00L-1.30 -2.30A1.3 1.3 0 1 1 1.30 -2.30L0.20 0.00ZM-0.07 -0.19L3.08 -2.43A1.3 1.3 0 1 1 3.92 0.02L0.07 0.19ZM-0.07 0.19L-3.92 0.02A1.3 1.3 0 1 1 -3.08 -2.43L0.07 -0.19ZM0.17 -0.11L2.80 2.02A1.3 1.3 0 1 1 0.59 3.40L-0.17 0.11ZM0.17 0.11L-0.59 3.40A1.3 1.3 0 1 1 -2.80 2.02L-0.17 -0.11Z" transform="translate(1237.5,759.4)" fill="#1a1a1a"/>
<path d="M-0.20 -0.00L-1.30 -2.30A1.3 1.3 0 1 1 1.30 -2.30L0.20 0.00ZM-0.07 -0.19L3.08 -2.43A1.3 1.3 0 1 1 3.92 0.02L0.07 0.19ZM-0.07 0.19L-3.92 0.02A1.3 1.3 0 1 1 -3.08 -2.43L0.07 -0.19ZM0.17 -0.11L2.80 2.02A1.3 1.3 0 1 1 0.59 3.40L-0.17 0.11ZM0.17 0.11L-0.59 3.40A1.3 1.3 0 1 1 -2.80 2.02L-0.17 -0.11Z" transform="translate(1249.8,759.4)" fill="#1a1a1a"/>
<path d="M-0.20 -0.00L-1.30 -2.30A1.3 1.3 0 1 1 1.30 -2.30L0.20 0.00ZM-0.07 -0.19L3.08 -2.43A1.3 1.3 0 1 1 3.92 0.02L0.07 0.19ZM-0.07 0.19L-3.92 0.02A1.3 1.3 0 1 1 -3.08 -2.43L0.07 -0.19ZM0.17 -0.11L2.80 2.02A1.3 1.3 0 1 1 0.59 3.40L-0.17 0.11ZM0.17 0.11L-0.59 3.40A1.3 1.3 0 1 1 -2.80 2.02L-0.17 -0.11Z" transform="translate(1247.8,740.2)" fill="#1a1a1a"/>
<path d="M-0.20 -0.00L-1.30 -2.30A1.3 1.3 0 1 1 1.30 -2.30L0.20 0.00ZM-0.07 -0.19L3.08 -2.43A1.3 1.3 0 1 1 3.92 0.02L0.07 0.19ZM-0.07 0.19L-3.92 0.02A1.3 1.3 0 1 1 -3.08 -2.43L0.07 -0.19ZM0.17 -0.11L2.80 2.02A1.3 1.3 0 1 1 0.59 3.40L-0.17 0.11ZM0.17 0.11L-0.59 3.40A1.3 1.3 0 1 1 -2.80 2.02L-0.17 -0.11Z" transform="translate(1259.8,740.2)" fill="#1a1a1a"/>
<path d="M-0.20 -0.00L-1.30 -2.30A1.3 1.3 0 1 1 1.30 -2.30L0.20 0.00ZM-0.07 -0.19L3.08 -2.43A1.3 1.3 0 1 1 3.92 0.02L0.07 0.19ZM-0.07 0.19L-3.92 0.02A1.3 1.3 0 1 1 -3.08 -2.43L0.07 -0.19ZM0.17 -0.11L2.80 2.02A1.3 1.3 0 1 1 0.59 3.40L-0.17 0.11ZM0.17 0.11L-0.59 3.40A1.3 1.3 0 1 1 -2.80 2.02L-0.17 -0.11Z" transform="translate(1286.3,693.3)" fill="#1a1a1a"/>
<path d="M-0.20 -0.00L-1.30 -2.30A1.3 1.3 0 1 1 1.30 -2.30L0.20 0.00ZM-0.07 -0.19L3.08 -2.43A1.3 1.3 0 1 1 3.92 0.02L0.07 0.19ZM-0.07 0.19L-3.92 0.02A1.3 1.3 0 1 1 -3.08 -2.43L0.07 -0.19ZM0.17 -0.11L2.80 2.02A1.3 1.3 0 1 1 0.59 3.40L-0.17 0.11ZM0.17 0.11L-0.59 3.40A1.3 1.3 0 1 1 -2.80 2.02L-0.17 -0.11Z" transform="translate(1298.15,716.1)" fill="#1a1a1a"/>
<path d="M-0.20 -0.00L-1.30 -2.30A1.3 1.3 0 1 1 1.30 -2.30L0.20 0.00ZM-0.07 -0.19L3.08 -2.43A1.3 1.3 0 1 1 3.92 0.02L0.07 0.19ZM-0.07 0.19L-3.92 0.02A1.3 1.3 0 1 1 -3.08 -2.43L0.07 -0.19ZM0.17 -0.11L2.80 2.02A1.3 1.3 0 1 1 0.59 3.40L-0.17 0.11ZM0.17 0.11L-0.59 3.40A1.3 1.3 0 1 1 -2.80 2.02L-0.17 -0.11Z" transform="translate(1322.7,729.9)" fill="#1a1a1a"/>
<path d="M-0.20 -0.00L-1.30 -2.30A1.3 1.3 0 1 1 1.30 -2.30L0.20 0.00ZM-0.07 -0.19L3.08 -2.43A1.3 1.3 0 1 1 3.92 0.02L0.07 0.19ZM-0.07 0.19L-3.92 0.02A1.3 1.3 0 1 1 -3.08 -2.43L0.07 -0.19ZM0.17 -0.11L2.80 2.02A1.3 1.3 0 1 1 0.59 3.40L-0.17 0.11ZM0.17 0.11L-0.59 3.40A1.3 1.3 0 1 1 -2.80 2.02L-0.17 -0.11Z" transform="translate(1335.4,729.9)" fill="#1a1a1a"/>
<path d="M-0.20 -0.00L-1.30 -2.30A1.3 1.3 0 1 1 1.30 -2.30L0.20 0.00ZM-0.07 -0.19L3.08 -2.43A1.3 1.3 0 1 1 3.92 0.02L0.07 0.19ZM-0.07 0.19L-3.92 0.02A1.3 1.3 0 1 1 -3.08 -2.43L0.07 -0.19ZM0.17 -0.11L2.80 2.02A1.3 1.3 0 1 1 0.59 3.40L-0.17 0.11ZM0.17 0.11L-0.59 3.40A1.3 1.3 0 1 1 -2.80 2.02L-0.17 -0.11Z" transform="translate(1337.3,757)" fill="#1a1a1a"/>
<path d="M-0.20 -0.00L-1.30 -2.30A1.3 1.3 0 1 1 1.30 -2.30L0.20 0.00ZM-0.07 -0.19L3.08 -2.43A1.3 1.3 0 1 1 3.92 0.02L0.07 0.19ZM-0.07 0.19L-3.92 0.02A1.3 1.3 0 1 1 -3.08 -2.43L0.07 -0.19ZM0.17 -0.11L2.80 2.02A1.3 1.3 0 1 1 0.59 3.40L-0.17 0.11ZM0.17 0.11L-0.59 3.40A1.3 1.3 0 1 1 -2.80 2.02L-0.17 -0.11Z" transform="translate(1350,757)" fill="#1a1a1a"/>
<path d="M-0.20 -0.00L-1.30 -2.30A1.3 1.3 0 1 1 1.30 -2.30L0.20 0.00ZM-0.07 -0.19L3.08 -2.43A1.3 1.3 0 1 1 3.92 0.02L0.07 0.19ZM-0.07 0.19L-3.92 0.02A1.3 1.3 0 1 1 -3.08 -2.43L0.07 -0.19ZM0.17 -0.11L2.80 2.02A1.3 1.3 0 1 1 0.59 3.40L-0.17 0.11ZM0.17 0.11L-0.59 3.40A1.3 1.3 0 1 1 -2.80 2.02L-0.17 -0.11Z" transform="translate(1381.95,739.3)" fill="#1a1a1a"/>
<path d="M-0.20 -0.00L-1.30 -2.30A1.3 1.3 0 1 1 1.30 -2.30L0.20 0.00ZM-0.07 -0.19L3.08 -2.43A1.3 1.3 0 1 1 3.92 0.02L0.07 0.19ZM-0.07 0.19L-3.92 0.02A1.3 1.3 0 1 1 -3.08 -2.43L0.07 -0.19ZM0.17 -0.11L2.80 2.02A1.3 1.3 0 1 1 0.59 3.40L-0.17 0.11ZM0.17 0.11L-0.59 3.40A1.3 1.3 0 1 1 -2.80 2.02L-0.17 -0.11Z" transform="translate(1406.1,741.9)" fill="#1a1a1a"/>
<path d="M-0.20 -0.00L-1.30 -2.30A1.3 1.3 0 1 1 1.30 -2.30L0.20 0.00ZM-0.07 -0.19L3.08 -2.43A1.3 1.3 0 1 1 3.92 0.02L0.07 0.19ZM-0.07 0.19L-3.92 0.02A1.3 1.3 0 1 1 -3.08 -2.43L0.07 -0.19ZM0.17 -0.11L2.80 2.02A1.3 1.3 0 1 1 0.59 3.40L-0.17 0.11ZM0.17 0.11L-0.59 3.40A1.3 1.3 0 1 1 -2.80 2.02L-0.17 -0.11Z" transform="translate(1418.8,741.9)" fill="#1a1a1a"/>
<path d="M-0.20 -0.00L-1.30 -2.30A1.3 1.3 0 1 1 1.30 -2.30L0.20 0.00ZM-0.07 -0.19L3.08 -2.43A1.3 1.3 0 1 1 3.92 0.02L0.07 0.19ZM-0.07 0.19L-3.92 0.02A1.3 1.3 0 1 1 -3.08 -2.43L0.07 -0.19ZM0.17 -0.11L2.80 2.02A1.3 1.3 0 1 1 0.59 3.40L-0.17 0.11ZM0.17 0.11L-0.59 3.40A1.3 1.3 0 1 1 -2.80 2.02L-0.17 -0.11Z" transform="translate(1419,755.7)" fill="#1a1a1a"/>
<path d="M-0.20 -0.00L-1.30 -2.30A1.3 1.3 0 1 1 1.30 -2.30L0.20 0.00ZM-0.07 -0.19L3.08 -2.43A1.3 1.3 0 1 1 3.92 0.02L0.07 0.19ZM-0.07 0.19L-3.92 0.02A1.3 1.3 0 1 1 -3.08 -2.43L0.07 -0.19ZM0.17 -0.11L2.80 2.02A1.3 1.3 0 1 1 0.59 3.40L-0.17 0.11ZM0.17 0.11L-0.59 3.40A1.3 1.3 0 1 1 -2.80 2.02L-0.17 -0.11Z" transform="translate(1431.7,755.7)" fill="#1a1a1a"/>
<text x="1052.1" y="924.7" class="nb" font-size="18" text-anchor="end" fill="#111" textLength="143.9" lengthAdjust="spacingAndGlyphs" >UVB (15 mJ/cm²)</text>
<text x="1052.5" y="962.9" class="nb" font-size="18" text-anchor="end" fill="#111" textLength="125.2" lengthAdjust="spacingAndGlyphs" >HC-EA (μg/mL)</text>
<text x="1050.2" y="999.6" class="nb" font-size="18" text-anchor="end" fill="#111" textLength="132.5" lengthAdjust="spacingAndGlyphs" >Quercitrin (μM)</text>
<text x="1050.2" y="1037.7" class="nb" font-size="18" text-anchor="end" fill="#111" textLength="142" lengthAdjust="spacingAndGlyphs" >Hyperoside (μM)</text>
<rect x="1079.9" y="918.2" width="7.2" height="2.2" fill="#111" />
<line x1="1117.2" y1="919.2" x2="1126.4" y2="919.2" stroke="#111" stroke-width="1.2"/>
<line x1="1121.8" y1="914.4" x2="1121.8" y2="924" stroke="#111" stroke-width="1.2"/>
<line x1="1159.4" y1="919.2" x2="1168.6" y2="919.2" stroke="#111" stroke-width="1.2"/>
<line x1="1164" y1="914.4" x2="1164" y2="924" stroke="#111" stroke-width="1.2"/>
<line x1="1205.1" y1="919.2" x2="1214.3" y2="919.2" stroke="#111" stroke-width="1.2"/>
<line x1="1209.7" y1="914.4" x2="1209.7" y2="924" stroke="#111" stroke-width="1.2"/>
<line x1="1244.5" y1="919.2" x2="1253.7" y2="919.2" stroke="#111" stroke-width="1.2"/>
<line x1="1249.1" y1="914.4" x2="1249.1" y2="924" stroke="#111" stroke-width="1.2"/>
<line x1="1290.9" y1="919.2" x2="1300.1" y2="919.2" stroke="#111" stroke-width="1.2"/>
<line x1="1295.5" y1="914.4" x2="1295.5" y2="924" stroke="#111" stroke-width="1.2"/>
<line x1="1332.7" y1="919.2" x2="1341.9" y2="919.2" stroke="#111" stroke-width="1.2"/>
<line x1="1337.3" y1="914.4" x2="1337.3" y2="924" stroke="#111" stroke-width="1.2"/>
<line x1="1372.3" y1="919.2" x2="1381.5" y2="919.2" stroke="#111" stroke-width="1.2"/>
<line x1="1376.9" y1="914.4" x2="1376.9" y2="924" stroke="#111" stroke-width="1.2"/>
<line x1="1413.7" y1="919.2" x2="1422.9" y2="919.2" stroke="#111" stroke-width="1.2"/>
<line x1="1418.3" y1="914.4" x2="1418.3" y2="924" stroke="#111" stroke-width="1.2"/>
<rect x="1079.9" y="953" width="7.2" height="2.2" fill="#111" />
<rect x="1118.2" y="953" width="7.2" height="2.2" fill="#111" />
<text x="1166.5" y="962.4" class="ns" font-size="17.5" text-anchor="middle" fill="#111" >25</text>
<text x="1211" y="962.4" class="ns" font-size="17.5" text-anchor="middle" fill="#111" >50</text>
<text x="1250.6" y="962.4" class="ns" font-size="17.5" text-anchor="middle" fill="#111" >100</text>
<rect x="1291.9" y="953" width="7.2" height="2.2" fill="#111" />
<rect x="1333.7" y="953" width="7.2" height="2.2" fill="#111" />
<rect x="1373.3" y="953" width="7.2" height="2.2" fill="#111" />
<rect x="1414.7" y="953" width="7.2" height="2.2" fill="#111" />
<rect x="1079.9" y="987.4" width="7.2" height="2.2" fill="#111" />
<rect x="1118.2" y="987.4" width="7.2" height="2.2" fill="#111" />
<rect x="1160.4" y="987.4" width="7.2" height="2.2" fill="#111" />
<rect x="1206.1" y="987.4" width="7.2" height="2.2" fill="#111" />
<rect x="1245.5" y="987.4" width="7.2" height="2.2" fill="#111" />
<text x="1299.2" y="999.8" class="ns" font-size="17.5" text-anchor="middle" fill="#111" >50</text>
<text x="1340.2" y="999.8" class="ns" font-size="17.5" text-anchor="middle" fill="#111" >100</text>
<rect x="1373.3" y="987.4" width="7.2" height="2.2" fill="#111" />
<rect x="1414.7" y="987.4" width="7.2" height="2.2" fill="#111" />
<rect x="1079.9" y="1022.2" width="7.2" height="2.2" fill="#111" />
<rect x="1118.2" y="1022.2" width="7.2" height="2.2" fill="#111" />
<rect x="1160.4" y="1022.2" width="7.2" height="2.2" fill="#111" />
<rect x="1206.1" y="1022.2" width="7.2" height="2.2" fill="#111" />
<rect x="1245.5" y="1022.2" width="7.2" height="2.2" fill="#111" />
<rect x="1291.9" y="1022.2" width="7.2" height="2.2" fill="#111" />
<rect x="1333.7" y="1022.2" width="7.2" height="2.2" fill="#111" />
<text x="1379.8" y="1036.3" class="ns" font-size="17.5" text-anchor="middle" fill="#111" >50</text>
<text x="1420.6" y="1036.3" class="ns" font-size="17.5" text-anchor="middle" fill="#111" >100</text>
</svg>
</body></html>
